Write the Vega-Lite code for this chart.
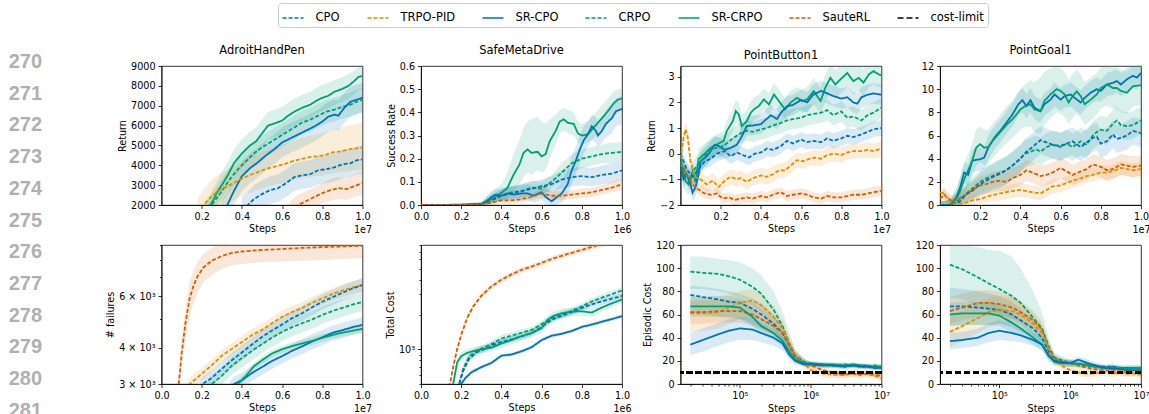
{
"$schema":"https://vega.github.io/schema/vega-lite/v6.json",
"background":"white",
"padding":{"left":0,"top":2,"right":0,"bottom":0},
"columns":5,
"spacing":{"row":40,"column":58.5},
"bounds":"flush",
"align":"each",
"datasets":{
"ln1":[{"n":270},{"n":271},{"n":272},{"n":273},{"n":274},{"n":275}],
"ln2":[{"n":276},{"n":277},{"n":278},{"n":279},{"n":280},{"n":281}],
"ahp":[
{"m":"SR-CRPO","x":0.2,"y":1400,"l":900,"h":1900},{"m":"SR-CRPO","x":0.25,"y":2100,"l":1500,"h":2700},{"m":"SR-CRPO","x":0.28,"y":2700,"l":2100,"h":3300},{"m":"SR-CRPO","x":0.3,"y":3000,"l":2350,"h":3650},{"m":"SR-CRPO","x":0.33,"y":3500,"l":2800,"h":4200},{"m":"SR-CRPO","x":0.36,"y":4100,"l":3400,"h":4800},{"m":"SR-CRPO","x":0.4,"y":4600,"l":3900,"h":5300},{"m":"SR-CRPO","x":0.44,"y":5000,"l":4300,"h":5700},{"m":"SR-CRPO","x":0.47,"y":5200,"l":4500,"h":5900},{"m":"SR-CRPO","x":0.5,"y":5600,"l":4900,"h":6300},{"m":"SR-CRPO","x":0.53,"y":6000,"l":5300,"h":6700},{"m":"SR-CRPO","x":0.56,"y":6100,"l":5400,"h":6800},{"m":"SR-CRPO","x":0.6,"y":6250,"l":5550,"h":6950},{"m":"SR-CRPO","x":0.63,"y":6500,"l":5800,"h":7150},{"m":"SR-CRPO","x":0.67,"y":6750,"l":6050,"h":7400},{"m":"SR-CRPO","x":0.7,"y":6900,"l":6200,"h":7550},{"m":"SR-CRPO","x":0.74,"y":7050,"l":6400,"h":7700},{"m":"SR-CRPO","x":0.77,"y":7250,"l":6600,"h":7900},{"m":"SR-CRPO","x":0.8,"y":7400,"l":6750,"h":8050},{"m":"SR-CRPO","x":0.83,"y":7500,"l":6850,"h":8150},{"m":"SR-CRPO","x":0.86,"y":7700,"l":7050,"h":8300},{"m":"SR-CRPO","x":0.9,"y":7850,"l":7200,"h":8450},{"m":"SR-CRPO","x":0.93,"y":8000,"l":7350,"h":8600},{"m":"SR-CRPO","x":0.96,"y":8250,"l":7600,"h":8800},{"m":"SR-CRPO","x":0.98,"y":8450,"l":7800,"h":8950},{"m":"SR-CRPO","x":1,"y":8500,"l":7850,"h":9000},
{"m":"CRPO","x":0.22,"y":1500,"l":1000,"h":2000},{"m":"CRPO","x":0.26,"y":2150,"l":1600,"h":2700},{"m":"CRPO","x":0.3,"y":2700,"l":2100,"h":3300},{"m":"CRPO","x":0.34,"y":3300,"l":2700,"h":3900},{"m":"CRPO","x":0.38,"y":3800,"l":3200,"h":4400},{"m":"CRPO","x":0.42,"y":4200,"l":3600,"h":4800},{"m":"CRPO","x":0.46,"y":4600,"l":4000,"h":5200},{"m":"CRPO","x":0.5,"y":4900,"l":4300,"h":5500},{"m":"CRPO","x":0.54,"y":5150,"l":4550,"h":5750},{"m":"CRPO","x":0.58,"y":5400,"l":4800,"h":6000},{"m":"CRPO","x":0.62,"y":5650,"l":5050,"h":6250},{"m":"CRPO","x":0.66,"y":5900,"l":5300,"h":6500},{"m":"CRPO","x":0.7,"y":6150,"l":5550,"h":6750},{"m":"CRPO","x":0.74,"y":6300,"l":5700,"h":6900},{"m":"CRPO","x":0.78,"y":6500,"l":5900,"h":7100},{"m":"CRPO","x":0.82,"y":6700,"l":6100,"h":7300},{"m":"CRPO","x":0.86,"y":6800,"l":6200,"h":7400},{"m":"CRPO","x":0.9,"y":6950,"l":6350,"h":7550},{"m":"CRPO","x":0.94,"y":7050,"l":6450,"h":7650},{"m":"CRPO","x":0.97,"y":7200,"l":6600,"h":7800},{"m":"CRPO","x":1,"y":7300,"l":6700,"h":7900},
{"m":"SR-CPO","x":0.3,"y":1600,"l":1000,"h":2200},{"m":"SR-CPO","x":0.33,"y":2050,"l":1400,"h":2700},{"m":"SR-CPO","x":0.36,"y":2700,"l":2000,"h":3400},{"m":"SR-CPO","x":0.4,"y":3450,"l":2700,"h":4200},{"m":"SR-CPO","x":0.44,"y":3850,"l":3100,"h":4600},{"m":"SR-CPO","x":0.48,"y":4150,"l":3400,"h":4900},{"m":"SR-CPO","x":0.52,"y":4500,"l":3750,"h":5250},{"m":"SR-CPO","x":0.56,"y":4800,"l":4050,"h":5550},{"m":"SR-CPO","x":0.6,"y":5150,"l":4400,"h":5900},{"m":"SR-CPO","x":0.64,"y":5350,"l":4600,"h":6100},{"m":"SR-CPO","x":0.68,"y":5550,"l":4800,"h":6300},{"m":"SR-CPO","x":0.72,"y":5750,"l":5000,"h":6500},{"m":"SR-CPO","x":0.76,"y":5950,"l":5200,"h":6700},{"m":"SR-CPO","x":0.8,"y":6200,"l":5450,"h":6950},{"m":"SR-CPO","x":0.83,"y":6450,"l":5700,"h":7200},{"m":"SR-CPO","x":0.86,"y":6550,"l":5800,"h":7300},{"m":"SR-CPO","x":0.88,"y":6500,"l":5750,"h":7250},{"m":"SR-CPO","x":0.91,"y":6900,"l":6150,"h":7650},{"m":"SR-CPO","x":0.94,"y":7200,"l":6450,"h":7950},{"m":"SR-CPO","x":0.97,"y":7300,"l":6550,"h":8050},{"m":"SR-CPO","x":1,"y":7400,"l":6650,"h":8150},
{"m":"TRPO-PID","x":0.18,"y":1600,"l":900,"h":2300},{"m":"TRPO-PID","x":0.21,"y":2000,"l":1200,"h":2800},{"m":"TRPO-PID","x":0.25,"y":2450,"l":1600,"h":3300},{"m":"TRPO-PID","x":0.29,"y":2750,"l":1900,"h":3600},{"m":"TRPO-PID","x":0.33,"y":2950,"l":2100,"h":3800},{"m":"TRPO-PID","x":0.37,"y":3150,"l":2300,"h":4000},{"m":"TRPO-PID","x":0.41,"y":3380,"l":2500,"h":4250},{"m":"TRPO-PID","x":0.45,"y":3550,"l":2650,"h":4450},{"m":"TRPO-PID","x":0.49,"y":3700,"l":2800,"h":4600},{"m":"TRPO-PID","x":0.53,"y":3850,"l":2950,"h":4800},{"m":"TRPO-PID","x":0.57,"y":3950,"l":3050,"h":4950},{"m":"TRPO-PID","x":0.61,"y":4050,"l":3100,"h":5050},{"m":"TRPO-PID","x":0.65,"y":4200,"l":3250,"h":5200},{"m":"TRPO-PID","x":0.69,"y":4300,"l":3350,"h":5350},{"m":"TRPO-PID","x":0.73,"y":4400,"l":3400,"h":5450},{"m":"TRPO-PID","x":0.77,"y":4450,"l":3450,"h":5550},{"m":"TRPO-PID","x":0.81,"y":4500,"l":3500,"h":5650},{"m":"TRPO-PID","x":0.85,"y":4650,"l":3600,"h":5800},{"m":"TRPO-PID","x":0.89,"y":4700,"l":3650,"h":5900},{"m":"TRPO-PID","x":0.93,"y":4800,"l":3700,"h":6000},{"m":"TRPO-PID","x":0.97,"y":4850,"l":3750,"h":6100},{"m":"TRPO-PID","x":1,"y":4900,"l":3800,"h":6150},
{"m":"CPO","x":0.4,"y":1750,"l":1100,"h":2400},{"m":"CPO","x":0.43,"y":2000,"l":1350,"h":2650},{"m":"CPO","x":0.46,"y":2300,"l":1600,"h":3000},{"m":"CPO","x":0.5,"y":2550,"l":1850,"h":3250},{"m":"CPO","x":0.54,"y":2750,"l":2050,"h":3450},{"m":"CPO","x":0.58,"y":2850,"l":2150,"h":3550},{"m":"CPO","x":0.62,"y":3100,"l":2400,"h":3800},{"m":"CPO","x":0.66,"y":3400,"l":2700,"h":4100},{"m":"CPO","x":0.7,"y":3500,"l":2800,"h":4200},{"m":"CPO","x":0.74,"y":3550,"l":2850,"h":4250},{"m":"CPO","x":0.78,"y":3750,"l":3050,"h":4450},{"m":"CPO","x":0.82,"y":3800,"l":3100,"h":4500},{"m":"CPO","x":0.86,"y":3900,"l":3200,"h":4600},{"m":"CPO","x":0.9,"y":4050,"l":3350,"h":4750},{"m":"CPO","x":0.94,"y":4100,"l":3400,"h":4800},{"m":"CPO","x":0.97,"y":4250,"l":3550,"h":4950},{"m":"CPO","x":1,"y":4300,"l":3600,"h":5000},
{"m":"SauteRL","x":0.64,"y":1700,"l":1200,"h":2200},{"m":"SauteRL","x":0.68,"y":2000,"l":1500,"h":2500},{"m":"SauteRL","x":0.72,"y":2200,"l":1700,"h":2700},{"m":"SauteRL","x":0.76,"y":2400,"l":1900,"h":2900},{"m":"SauteRL","x":0.8,"y":2600,"l":2100,"h":3100},{"m":"SauteRL","x":0.84,"y":2750,"l":2200,"h":3300},{"m":"SauteRL","x":0.88,"y":2850,"l":2300,"h":3400},{"m":"SauteRL","x":0.92,"y":2800,"l":2250,"h":3350},{"m":"SauteRL","x":0.96,"y":2950,"l":2400,"h":3550},{"m":"SauteRL","x":1,"y":3100,"l":2500,"h":3700}
],
"smd":[
{"m":"SR-CRPO","x":0,"y":0,"l":0,"h":0},{"m":"SR-CRPO","x":0.1,"y":0,"l":0,"h":0.002},{"m":"SR-CRPO","x":0.2,"y":0.002,"l":0,"h":0.008},{"m":"SR-CRPO","x":0.3,"y":0.005,"l":0,"h":0.015},{"m":"SR-CRPO","x":0.33,"y":0.02,"l":0.005,"h":0.04},{"m":"SR-CRPO","x":0.36,"y":0.03,"l":0.01,"h":0.06},{"m":"SR-CRPO","x":0.4,"y":0.052,"l":0.02,"h":0.09},{"m":"SR-CRPO","x":0.43,"y":0.074,"l":0.03,"h":0.14},{"m":"SR-CRPO","x":0.46,"y":0.13,"l":0.06,"h":0.22},{"m":"SR-CRPO","x":0.49,"y":0.175,"l":0.09,"h":0.28},{"m":"SR-CRPO","x":0.51,"y":0.225,"l":0.12,"h":0.33},{"m":"SR-CRPO","x":0.53,"y":0.24,"l":0.14,"h":0.36},{"m":"SR-CRPO","x":0.55,"y":0.225,"l":0.13,"h":0.37},{"m":"SR-CRPO","x":0.58,"y":0.23,"l":0.15,"h":0.38},{"m":"SR-CRPO","x":0.6,"y":0.21,"l":0.14,"h":0.36},{"m":"SR-CRPO","x":0.62,"y":0.22,"l":0.15,"h":0.35},{"m":"SR-CRPO","x":0.64,"y":0.275,"l":0.2,"h":0.37},{"m":"SR-CRPO","x":0.67,"y":0.32,"l":0.26,"h":0.39},{"m":"SR-CRPO","x":0.69,"y":0.36,"l":0.31,"h":0.41},{"m":"SR-CRPO","x":0.71,"y":0.37,"l":0.32,"h":0.42},{"m":"SR-CRPO","x":0.73,"y":0.355,"l":0.31,"h":0.41},{"m":"SR-CRPO","x":0.76,"y":0.35,"l":0.3,"h":0.4},{"m":"SR-CRPO","x":0.78,"y":0.31,"l":0.27,"h":0.36},{"m":"SR-CRPO","x":0.8,"y":0.3,"l":0.26,"h":0.35},{"m":"SR-CRPO","x":0.83,"y":0.305,"l":0.27,"h":0.36},{"m":"SR-CRPO","x":0.85,"y":0.325,"l":0.28,"h":0.38},{"m":"SR-CRPO","x":0.88,"y":0.355,"l":0.31,"h":0.41},{"m":"SR-CRPO","x":0.9,"y":0.375,"l":0.33,"h":0.43},{"m":"SR-CRPO","x":0.93,"y":0.405,"l":0.36,"h":0.46},{"m":"SR-CRPO","x":0.96,"y":0.44,"l":0.39,"h":0.49},{"m":"SR-CRPO","x":0.98,"y":0.455,"l":0.4,"h":0.5},{"m":"SR-CRPO","x":1,"y":0.46,"l":0.41,"h":0.5},
{"m":"SR-CPO","x":0,"y":0,"l":0,"h":0},{"m":"SR-CPO","x":0.1,"y":0,"l":0,"h":0.002},{"m":"SR-CPO","x":0.2,"y":0,"l":0,"h":0.005},{"m":"SR-CPO","x":0.3,"y":0.002,"l":0,"h":0.01},{"m":"SR-CPO","x":0.32,"y":0.01,"l":0,"h":0.03},{"m":"SR-CPO","x":0.35,"y":0.035,"l":0.01,"h":0.06},{"m":"SR-CPO","x":0.37,"y":0.045,"l":0.02,"h":0.07},{"m":"SR-CPO","x":0.4,"y":0.04,"l":0.015,"h":0.07},{"m":"SR-CPO","x":0.43,"y":0.05,"l":0.02,"h":0.08},{"m":"SR-CPO","x":0.46,"y":0.045,"l":0.02,"h":0.08},{"m":"SR-CPO","x":0.5,"y":0.05,"l":0.02,"h":0.085},{"m":"SR-CPO","x":0.53,"y":0.05,"l":0.02,"h":0.09},{"m":"SR-CPO","x":0.56,"y":0.04,"l":0.01,"h":0.08},{"m":"SR-CPO","x":0.6,"y":0.055,"l":0.02,"h":0.09},{"m":"SR-CPO","x":0.62,"y":0.035,"l":0.005,"h":0.08},{"m":"SR-CPO","x":0.65,"y":0.016,"l":0,"h":0.06},{"m":"SR-CPO","x":0.67,"y":0.03,"l":0,"h":0.07},{"m":"SR-CPO","x":0.7,"y":0.05,"l":0.01,"h":0.1},{"m":"SR-CPO","x":0.73,"y":0.09,"l":0.04,"h":0.15},{"m":"SR-CPO","x":0.75,"y":0.15,"l":0.09,"h":0.21},{"m":"SR-CPO","x":0.77,"y":0.19,"l":0.13,"h":0.25},{"m":"SR-CPO","x":0.79,"y":0.24,"l":0.18,"h":0.3},{"m":"SR-CPO","x":0.81,"y":0.28,"l":0.22,"h":0.34},{"m":"SR-CPO","x":0.83,"y":0.305,"l":0.25,"h":0.36},{"m":"SR-CPO","x":0.85,"y":0.34,"l":0.28,"h":0.39},{"m":"SR-CPO","x":0.87,"y":0.32,"l":0.27,"h":0.38},{"m":"SR-CPO","x":0.88,"y":0.3,"l":0.25,"h":0.36},{"m":"SR-CPO","x":0.9,"y":0.32,"l":0.27,"h":0.38},{"m":"SR-CPO","x":0.92,"y":0.35,"l":0.29,"h":0.41},{"m":"SR-CPO","x":0.95,"y":0.375,"l":0.31,"h":0.44},{"m":"SR-CPO","x":0.97,"y":0.405,"l":0.34,"h":0.46},{"m":"SR-CPO","x":1,"y":0.415,"l":0.35,"h":0.47},
{"m":"CRPO","x":0,"y":0,"l":0,"h":0},{"m":"CRPO","x":0.2,"y":0,"l":0,"h":0.004},{"m":"CRPO","x":0.3,"y":0.004,"l":0,"h":0.012},{"m":"CRPO","x":0.35,"y":0.02,"l":0.005,"h":0.04},{"m":"CRPO","x":0.4,"y":0.04,"l":0.02,"h":0.065},{"m":"CRPO","x":0.45,"y":0.055,"l":0.03,"h":0.08},{"m":"CRPO","x":0.5,"y":0.06,"l":0.035,"h":0.09},{"m":"CRPO","x":0.55,"y":0.075,"l":0.045,"h":0.105},{"m":"CRPO","x":0.6,"y":0.07,"l":0.04,"h":0.1},{"m":"CRPO","x":0.65,"y":0.1,"l":0.07,"h":0.13},{"m":"CRPO","x":0.7,"y":0.14,"l":0.1,"h":0.18},{"m":"CRPO","x":0.75,"y":0.18,"l":0.14,"h":0.22},{"m":"CRPO","x":0.8,"y":0.2,"l":0.16,"h":0.24},{"m":"CRPO","x":0.85,"y":0.21,"l":0.17,"h":0.25},{"m":"CRPO","x":0.9,"y":0.22,"l":0.18,"h":0.26},{"m":"CRPO","x":0.95,"y":0.225,"l":0.18,"h":0.27},{"m":"CRPO","x":1,"y":0.23,"l":0.19,"h":0.27},
{"m":"CPO","x":0,"y":0,"l":0,"h":0},{"m":"CPO","x":0.2,"y":0,"l":0,"h":0.004},{"m":"CPO","x":0.3,"y":0.003,"l":0,"h":0.01},{"m":"CPO","x":0.35,"y":0.02,"l":0.005,"h":0.04},{"m":"CPO","x":0.4,"y":0.04,"l":0.02,"h":0.07},{"m":"CPO","x":0.45,"y":0.05,"l":0.025,"h":0.08},{"m":"CPO","x":0.5,"y":0.06,"l":0.03,"h":0.09},{"m":"CPO","x":0.55,"y":0.07,"l":0.04,"h":0.1},{"m":"CPO","x":0.6,"y":0.08,"l":0.05,"h":0.11},{"m":"CPO","x":0.65,"y":0.09,"l":0.06,"h":0.125},{"m":"CPO","x":0.7,"y":0.11,"l":0.07,"h":0.15},{"m":"CPO","x":0.75,"y":0.12,"l":0.08,"h":0.16},{"m":"CPO","x":0.8,"y":0.125,"l":0.085,"h":0.165},{"m":"CPO","x":0.85,"y":0.12,"l":0.08,"h":0.16},{"m":"CPO","x":0.9,"y":0.13,"l":0.09,"h":0.17},{"m":"CPO","x":0.95,"y":0.135,"l":0.095,"h":0.18},{"m":"CPO","x":1,"y":0.15,"l":0.11,"h":0.19},
{"m":"SauteRL","x":0,"y":0,"l":0,"h":0},{"m":"SauteRL","x":0.2,"y":0,"l":0,"h":0.003},{"m":"SauteRL","x":0.3,"y":0.002,"l":0,"h":0.008},{"m":"SauteRL","x":0.35,"y":0.01,"l":0,"h":0.02},{"m":"SauteRL","x":0.4,"y":0.02,"l":0.005,"h":0.035},{"m":"SauteRL","x":0.45,"y":0.02,"l":0.005,"h":0.035},{"m":"SauteRL","x":0.5,"y":0.025,"l":0.01,"h":0.04},{"m":"SauteRL","x":0.55,"y":0.035,"l":0.02,"h":0.05},{"m":"SauteRL","x":0.6,"y":0.05,"l":0.03,"h":0.07},{"m":"SauteRL","x":0.65,"y":0.04,"l":0.02,"h":0.06},{"m":"SauteRL","x":0.7,"y":0.04,"l":0.02,"h":0.06},{"m":"SauteRL","x":0.75,"y":0.045,"l":0.025,"h":0.065},{"m":"SauteRL","x":0.8,"y":0.05,"l":0.03,"h":0.07},{"m":"SauteRL","x":0.85,"y":0.055,"l":0.035,"h":0.075},{"m":"SauteRL","x":0.9,"y":0.065,"l":0.045,"h":0.085},{"m":"SauteRL","x":0.95,"y":0.075,"l":0.055,"h":0.1},{"m":"SauteRL","x":1,"y":0.09,"l":0.065,"h":0.115}
],
"pb":[
{"m":"SR-CRPO","x":0,"y":-0.29,"l":-0.7,"h":0.1},{"m":"SR-CRPO","x":0.025,"y":-1.06,"l":-1.5,"h":-0.6},{"m":"SR-CRPO","x":0.04,"y":-1.2,"l":-1.6,"h":-0.8},{"m":"SR-CRPO","x":0.06,"y":-0.7,"l":-1.1,"h":-0.3},{"m":"SR-CRPO","x":0.075,"y":-1.1,"l":-1.5,"h":-0.7},{"m":"SR-CRPO","x":0.09,"y":-0.2,"l":-0.6,"h":0.2},{"m":"SR-CRPO","x":0.116,"y":-0.03,"l":-0.4,"h":0.35},{"m":"SR-CRPO","x":0.15,"y":0.23,"l":-0.15,"h":0.6},{"m":"SR-CRPO","x":0.18,"y":0.36,"l":0,"h":0.75},{"m":"SR-CRPO","x":0.215,"y":0.5,"l":0.1,"h":0.9},{"m":"SR-CRPO","x":0.23,"y":0.88,"l":0.45,"h":1.3},{"m":"SR-CRPO","x":0.26,"y":1.27,"l":0.85,"h":1.7},{"m":"SR-CRPO","x":0.275,"y":1.66,"l":1.2,"h":2.1},{"m":"SR-CRPO","x":0.29,"y":1.53,"l":1.1,"h":2},{"m":"SR-CRPO","x":0.305,"y":1.08,"l":0.65,"h":1.5},{"m":"SR-CRPO","x":0.33,"y":1.27,"l":0.85,"h":1.7},{"m":"SR-CRPO","x":0.35,"y":1.6,"l":1.15,"h":2.05},{"m":"SR-CRPO","x":0.365,"y":1.73,"l":1.3,"h":2.2},{"m":"SR-CRPO","x":0.39,"y":1.86,"l":1.4,"h":2.3},{"m":"SR-CRPO","x":0.415,"y":2.12,"l":1.7,"h":2.55},{"m":"SR-CRPO","x":0.44,"y":1.92,"l":1.5,"h":2.35},{"m":"SR-CRPO","x":0.465,"y":2.31,"l":1.9,"h":2.75},{"m":"SR-CRPO","x":0.49,"y":2.05,"l":1.6,"h":2.5},{"m":"SR-CRPO","x":0.52,"y":1.73,"l":1.3,"h":2.15},{"m":"SR-CRPO","x":0.547,"y":1.99,"l":1.55,"h":2.45},{"m":"SR-CRPO","x":0.58,"y":2.18,"l":1.75,"h":2.6},{"m":"SR-CRPO","x":0.605,"y":2.05,"l":1.6,"h":2.5},{"m":"SR-CRPO","x":0.63,"y":2.12,"l":1.65,"h":2.6},{"m":"SR-CRPO","x":0.663,"y":2.44,"l":1.95,"h":2.95},{"m":"SR-CRPO","x":0.697,"y":2.05,"l":1.55,"h":2.55},{"m":"SR-CRPO","x":0.72,"y":2.57,"l":2.05,"h":3.1},{"m":"SR-CRPO","x":0.746,"y":2.96,"l":2.4,"h":3.5},{"m":"SR-CRPO","x":0.77,"y":2.7,"l":2.15,"h":3.25},{"m":"SR-CRPO","x":0.796,"y":2.9,"l":2.35,"h":3.45},{"m":"SR-CRPO","x":0.83,"y":3.15,"l":2.6,"h":3.7},{"m":"SR-CRPO","x":0.86,"y":2.83,"l":2.3,"h":3.35},{"m":"SR-CRPO","x":0.887,"y":2.96,"l":2.45,"h":3.45},{"m":"SR-CRPO","x":0.91,"y":2.77,"l":2.25,"h":3.3},{"m":"SR-CRPO","x":0.937,"y":3.09,"l":2.6,"h":3.6},{"m":"SR-CRPO","x":0.96,"y":3.22,"l":2.7,"h":3.7},{"m":"SR-CRPO","x":0.987,"y":3.09,"l":2.6,"h":3.55},{"m":"SR-CRPO","x":1,"y":3.06,"l":2.6,"h":3.5},
{"m":"SR-CPO","x":0,"y":-0.5,"l":-0.85,"h":-0.15},{"m":"SR-CPO","x":0.015,"y":-1,"l":-1.35,"h":-0.65},{"m":"SR-CPO","x":0.03,"y":-0.8,"l":-1.15,"h":-0.45},{"m":"SR-CPO","x":0.05,"y":-1.2,"l":-1.55,"h":-0.85},{"m":"SR-CPO","x":0.06,"y":-1.52,"l":-1.85,"h":-1.15},{"m":"SR-CPO","x":0.075,"y":-1.3,"l":-1.65,"h":-0.95},{"m":"SR-CPO","x":0.09,"y":-0.8,"l":-1.15,"h":-0.45},{"m":"SR-CPO","x":0.1,"y":-0.3,"l":-0.65,"h":0.05},{"m":"SR-CPO","x":0.13,"y":-0.1,"l":-0.45,"h":0.25},{"m":"SR-CPO","x":0.15,"y":0.1,"l":-0.25,"h":0.45},{"m":"SR-CPO","x":0.17,"y":0.35,"l":0,"h":0.7},{"m":"SR-CPO","x":0.19,"y":0.3,"l":-0.05,"h":0.65},{"m":"SR-CPO","x":0.22,"y":0.15,"l":-0.2,"h":0.5},{"m":"SR-CPO","x":0.25,"y":0.23,"l":-0.12,"h":0.58},{"m":"SR-CPO","x":0.28,"y":0.35,"l":0,"h":0.7},{"m":"SR-CPO","x":0.3,"y":0.6,"l":0.25,"h":0.95},{"m":"SR-CPO","x":0.33,"y":1.08,"l":0.7,"h":1.45},{"m":"SR-CPO","x":0.36,"y":1.1,"l":0.72,"h":1.48},{"m":"SR-CPO","x":0.4,"y":1.15,"l":0.77,"h":1.53},{"m":"SR-CPO","x":0.42,"y":1.3,"l":0.92,"h":1.68},{"m":"SR-CPO","x":0.45,"y":1.5,"l":1.1,"h":1.9},{"m":"SR-CPO","x":0.48,"y":1.35,"l":0.95,"h":1.75},{"m":"SR-CPO","x":0.5,"y":1.6,"l":1.2,"h":2},{"m":"SR-CPO","x":0.53,"y":1.85,"l":1.45,"h":2.25},{"m":"SR-CPO","x":0.56,"y":1.9,"l":1.5,"h":2.3},{"m":"SR-CPO","x":0.6,"y":2.1,"l":1.7,"h":2.5},{"m":"SR-CPO","x":0.63,"y":2,"l":1.6,"h":2.4},{"m":"SR-CPO","x":0.66,"y":2.3,"l":1.9,"h":2.7},{"m":"SR-CPO","x":0.7,"y":2.45,"l":2.05,"h":2.85},{"m":"SR-CPO","x":0.73,"y":2.35,"l":1.95,"h":2.75},{"m":"SR-CPO","x":0.76,"y":2.25,"l":1.85,"h":2.65},{"m":"SR-CPO","x":0.8,"y":2.15,"l":1.75,"h":2.55},{"m":"SR-CPO","x":0.83,"y":2.2,"l":1.8,"h":2.6},{"m":"SR-CPO","x":0.86,"y":2,"l":1.6,"h":2.4},{"m":"SR-CPO","x":0.88,"y":1.95,"l":1.55,"h":2.35},{"m":"SR-CPO","x":0.9,"y":2.2,"l":1.8,"h":2.6},{"m":"SR-CPO","x":0.93,"y":2.3,"l":1.9,"h":2.7},{"m":"SR-CPO","x":0.96,"y":2.35,"l":1.95,"h":2.75},{"m":"SR-CPO","x":1,"y":2.3,"l":1.9,"h":2.7},
{"m":"CRPO","x":0,"y":-0.3,"l":-0.7,"h":0.1},{"m":"CRPO","x":0.03,"y":-0.8,"l":-1.2,"h":-0.4},{"m":"CRPO","x":0.05,"y":-1,"l":-1.4,"h":-0.6},{"m":"CRPO","x":0.07,"y":-0.6,"l":-1,"h":-0.2},{"m":"CRPO","x":0.1,"y":-0.3,"l":-0.7,"h":0.1},{"m":"CRPO","x":0.13,"y":0,"l":-0.4,"h":0.4},{"m":"CRPO","x":0.16,"y":0.2,"l":-0.2,"h":0.6},{"m":"CRPO","x":0.2,"y":0.25,"l":-0.15,"h":0.65},{"m":"CRPO","x":0.23,"y":0.4,"l":0,"h":0.8},{"m":"CRPO","x":0.26,"y":0.6,"l":0.2,"h":1},{"m":"CRPO","x":0.3,"y":0.8,"l":0.4,"h":1.2},{"m":"CRPO","x":0.33,"y":0.9,"l":0.5,"h":1.3},{"m":"CRPO","x":0.36,"y":0.85,"l":0.45,"h":1.25},{"m":"CRPO","x":0.4,"y":0.95,"l":0.55,"h":1.35},{"m":"CRPO","x":0.43,"y":1,"l":0.6,"h":1.4},{"m":"CRPO","x":0.46,"y":1.1,"l":0.7,"h":1.5},{"m":"CRPO","x":0.5,"y":1.2,"l":0.8,"h":1.6},{"m":"CRPO","x":0.53,"y":1.3,"l":0.9,"h":1.7},{"m":"CRPO","x":0.56,"y":1.35,"l":0.95,"h":1.75},{"m":"CRPO","x":0.6,"y":1.4,"l":1,"h":1.8},{"m":"CRPO","x":0.63,"y":1.5,"l":1.1,"h":1.9},{"m":"CRPO","x":0.66,"y":1.55,"l":1.15,"h":1.95},{"m":"CRPO","x":0.7,"y":1.6,"l":1.2,"h":2},{"m":"CRPO","x":0.73,"y":1.7,"l":1.3,"h":2.1},{"m":"CRPO","x":0.76,"y":1.5,"l":1.1,"h":1.9},{"m":"CRPO","x":0.8,"y":1.65,"l":1.25,"h":2.05},{"m":"CRPO","x":0.83,"y":1.4,"l":1,"h":1.8},{"m":"CRPO","x":0.86,"y":1.45,"l":1.05,"h":1.85},{"m":"CRPO","x":0.9,"y":1.3,"l":0.9,"h":1.7},{"m":"CRPO","x":0.93,"y":1.5,"l":1.1,"h":1.9},{"m":"CRPO","x":0.96,"y":1.6,"l":1.2,"h":2},{"m":"CRPO","x":1,"y":1.8,"l":1.4,"h":2.2},
{"m":"CPO","x":0,"y":0,"l":-0.3,"h":0.3},{"m":"CPO","x":0.03,"y":-0.6,"l":-0.9,"h":-0.3},{"m":"CPO","x":0.06,"y":-0.9,"l":-1.2,"h":-0.6},{"m":"CPO","x":0.09,"y":-0.6,"l":-0.9,"h":-0.3},{"m":"CPO","x":0.12,"y":-0.3,"l":-0.6,"h":0},{"m":"CPO","x":0.15,"y":-0.2,"l":-0.5,"h":0.1},{"m":"CPO","x":0.18,"y":0,"l":-0.3,"h":0.3},{"m":"CPO","x":0.22,"y":0.1,"l":-0.2,"h":0.4},{"m":"CPO","x":0.25,"y":-0.1,"l":-0.4,"h":0.2},{"m":"CPO","x":0.28,"y":0.05,"l":-0.25,"h":0.35},{"m":"CPO","x":0.31,"y":-0.05,"l":-0.35,"h":0.25},{"m":"CPO","x":0.34,"y":-0.15,"l":-0.45,"h":0.15},{"m":"CPO","x":0.37,"y":0,"l":-0.3,"h":0.3},{"m":"CPO","x":0.4,"y":0.05,"l":-0.25,"h":0.35},{"m":"CPO","x":0.43,"y":0.2,"l":-0.1,"h":0.5},{"m":"CPO","x":0.46,"y":0.15,"l":-0.15,"h":0.45},{"m":"CPO","x":0.5,"y":0.3,"l":0,"h":0.6},{"m":"CPO","x":0.53,"y":0.5,"l":0.2,"h":0.8},{"m":"CPO","x":0.56,"y":0.4,"l":0.1,"h":0.7},{"m":"CPO","x":0.6,"y":0.55,"l":0.25,"h":0.85},{"m":"CPO","x":0.63,"y":0.45,"l":0.15,"h":0.75},{"m":"CPO","x":0.66,"y":0.5,"l":0.2,"h":0.8},{"m":"CPO","x":0.7,"y":0.45,"l":0.15,"h":0.75},{"m":"CPO","x":0.73,"y":0.6,"l":0.3,"h":0.9},{"m":"CPO","x":0.76,"y":0.5,"l":0.2,"h":0.8},{"m":"CPO","x":0.8,"y":0.6,"l":0.3,"h":0.9},{"m":"CPO","x":0.83,"y":0.7,"l":0.4,"h":1},{"m":"CPO","x":0.86,"y":0.65,"l":0.35,"h":0.95},{"m":"CPO","x":0.9,"y":0.75,"l":0.45,"h":1.05},{"m":"CPO","x":0.93,"y":0.85,"l":0.55,"h":1.15},{"m":"CPO","x":0.96,"y":0.95,"l":0.65,"h":1.25},{"m":"CPO","x":1,"y":1,"l":0.7,"h":1.3},
{"m":"TRPO-PID","x":0,"y":-0.2,"l":-0.5,"h":0.1},{"m":"TRPO-PID","x":0.015,"y":0.6,"l":0.3,"h":0.9},{"m":"TRPO-PID","x":0.025,"y":0.95,"l":0.65,"h":1.25},{"m":"TRPO-PID","x":0.035,"y":0.7,"l":0.4,"h":1},{"m":"TRPO-PID","x":0.05,"y":-0.3,"l":-0.6,"h":0},{"m":"TRPO-PID","x":0.07,"y":-0.9,"l":-1.2,"h":-0.6},{"m":"TRPO-PID","x":0.1,"y":-1,"l":-1.3,"h":-0.7},{"m":"TRPO-PID","x":0.13,"y":-1.2,"l":-1.5,"h":-0.9},{"m":"TRPO-PID","x":0.16,"y":-1.05,"l":-1.35,"h":-0.75},{"m":"TRPO-PID","x":0.19,"y":-1.3,"l":-1.6,"h":-1},{"m":"TRPO-PID","x":0.22,"y":-1.05,"l":-1.35,"h":-0.75},{"m":"TRPO-PID","x":0.25,"y":-0.9,"l":-1.2,"h":-0.6},{"m":"TRPO-PID","x":0.28,"y":-1,"l":-1.3,"h":-0.7},{"m":"TRPO-PID","x":0.3,"y":-0.95,"l":-1.25,"h":-0.65},{"m":"TRPO-PID","x":0.33,"y":-1.1,"l":-1.4,"h":-0.8},{"m":"TRPO-PID","x":0.36,"y":-0.95,"l":-1.25,"h":-0.65},{"m":"TRPO-PID","x":0.4,"y":-0.85,"l":-1.15,"h":-0.55},{"m":"TRPO-PID","x":0.43,"y":-0.9,"l":-1.2,"h":-0.6},{"m":"TRPO-PID","x":0.46,"y":-0.8,"l":-1.1,"h":-0.5},{"m":"TRPO-PID","x":0.49,"y":-0.65,"l":-0.95,"h":-0.35},{"m":"TRPO-PID","x":0.52,"y":-0.65,"l":-0.95,"h":-0.35},{"m":"TRPO-PID","x":0.55,"y":-0.45,"l":-0.75,"h":-0.15},{"m":"TRPO-PID","x":0.58,"y":-0.25,"l":-0.55,"h":0.05},{"m":"TRPO-PID","x":0.61,"y":-0.3,"l":-0.6,"h":0},{"m":"TRPO-PID","x":0.64,"y":-0.2,"l":-0.5,"h":0.1},{"m":"TRPO-PID","x":0.67,"y":-0.15,"l":-0.45,"h":0.15},{"m":"TRPO-PID","x":0.7,"y":-0.2,"l":-0.5,"h":0.1},{"m":"TRPO-PID","x":0.73,"y":-0.05,"l":-0.35,"h":0.25},{"m":"TRPO-PID","x":0.76,"y":0,"l":-0.3,"h":0.3},{"m":"TRPO-PID","x":0.8,"y":-0.05,"l":-0.35,"h":0.25},{"m":"TRPO-PID","x":0.83,"y":0.05,"l":-0.25,"h":0.35},{"m":"TRPO-PID","x":0.86,"y":0.1,"l":-0.2,"h":0.4},{"m":"TRPO-PID","x":0.9,"y":0.1,"l":-0.2,"h":0.4},{"m":"TRPO-PID","x":0.93,"y":0.15,"l":-0.15,"h":0.45},{"m":"TRPO-PID","x":0.96,"y":0.1,"l":-0.2,"h":0.4},{"m":"TRPO-PID","x":1,"y":0.2,"l":-0.1,"h":0.5},
{"m":"SauteRL","x":0,"y":-0.4,"l":-0.6,"h":-0.2},{"m":"SauteRL","x":0.03,"y":-0.8,"l":-1,"h":-0.6},{"m":"SauteRL","x":0.06,"y":-1.2,"l":-1.4,"h":-1},{"m":"SauteRL","x":0.09,"y":-1.4,"l":-1.6,"h":-1.2},{"m":"SauteRL","x":0.12,"y":-1.55,"l":-1.75,"h":-1.35},{"m":"SauteRL","x":0.15,"y":-1.6,"l":-1.8,"h":-1.4},{"m":"SauteRL","x":0.18,"y":-1.55,"l":-1.75,"h":-1.35},{"m":"SauteRL","x":0.21,"y":-1.75,"l":-1.95,"h":-1.55},{"m":"SauteRL","x":0.24,"y":-1.7,"l":-1.9,"h":-1.5},{"m":"SauteRL","x":0.27,"y":-1.8,"l":-2,"h":-1.6},{"m":"SauteRL","x":0.3,"y":-1.75,"l":-1.95,"h":-1.55},{"m":"SauteRL","x":0.33,"y":-1.7,"l":-1.9,"h":-1.5},{"m":"SauteRL","x":0.36,"y":-1.75,"l":-1.95,"h":-1.55},{"m":"SauteRL","x":0.4,"y":-1.65,"l":-1.85,"h":-1.45},{"m":"SauteRL","x":0.43,"y":-1.7,"l":-1.9,"h":-1.5},{"m":"SauteRL","x":0.46,"y":-1.6,"l":-1.8,"h":-1.4},{"m":"SauteRL","x":0.5,"y":-1.5,"l":-1.7,"h":-1.3},{"m":"SauteRL","x":0.53,"y":-1.65,"l":-1.85,"h":-1.45},{"m":"SauteRL","x":0.56,"y":-1.6,"l":-1.8,"h":-1.4},{"m":"SauteRL","x":0.6,"y":-1.55,"l":-1.75,"h":-1.35},{"m":"SauteRL","x":0.63,"y":-1.6,"l":-1.8,"h":-1.4},{"m":"SauteRL","x":0.66,"y":-1.7,"l":-1.9,"h":-1.5},{"m":"SauteRL","x":0.7,"y":-1.75,"l":-1.95,"h":-1.55},{"m":"SauteRL","x":0.73,"y":-1.65,"l":-1.85,"h":-1.45},{"m":"SauteRL","x":0.76,"y":-1.7,"l":-1.9,"h":-1.5},{"m":"SauteRL","x":0.8,"y":-1.7,"l":-1.9,"h":-1.5},{"m":"SauteRL","x":0.83,"y":-1.65,"l":-1.85,"h":-1.45},{"m":"SauteRL","x":0.86,"y":-1.6,"l":-1.8,"h":-1.4},{"m":"SauteRL","x":0.9,"y":-1.6,"l":-1.8,"h":-1.4},{"m":"SauteRL","x":0.93,"y":-1.55,"l":-1.75,"h":-1.35},{"m":"SauteRL","x":0.96,"y":-1.5,"l":-1.7,"h":-1.3},{"m":"SauteRL","x":1,"y":-1.45,"l":-1.65,"h":-1.25}
],
"pg":[
{"m":"SR-CPO","x":0,"y":0,"l":0,"h":0.3},{"m":"SR-CPO","x":0.05,"y":0,"l":0,"h":0.4},{"m":"SR-CPO","x":0.08,"y":0.63,"l":0.1,"h":1.3},{"m":"SR-CPO","x":0.1,"y":1.5,"l":0.7,"h":2.3},{"m":"SR-CPO","x":0.12,"y":2.8,"l":1.9,"h":3.7},{"m":"SR-CPO","x":0.14,"y":2.6,"l":1.7,"h":3.5},{"m":"SR-CPO","x":0.16,"y":3.8,"l":2.8,"h":4.8},{"m":"SR-CPO","x":0.18,"y":3.9,"l":2.9,"h":4.9},{"m":"SR-CPO","x":0.2,"y":3.95,"l":2.95,"h":4.95},{"m":"SR-CPO","x":0.22,"y":4.1,"l":3.1,"h":5.1},{"m":"SR-CPO","x":0.24,"y":4.95,"l":3.9,"h":6},{"m":"SR-CPO","x":0.27,"y":5.8,"l":4.8,"h":6.8},{"m":"SR-CPO","x":0.3,"y":6.4,"l":5.4,"h":7.4},{"m":"SR-CPO","x":0.33,"y":7.1,"l":6.1,"h":8.1},{"m":"SR-CPO","x":0.36,"y":7.8,"l":6.8,"h":8.8},{"m":"SR-CPO","x":0.39,"y":8.7,"l":7.7,"h":9.7},{"m":"SR-CPO","x":0.41,"y":9.05,"l":8,"h":10.1},{"m":"SR-CPO","x":0.43,"y":8.55,"l":7.5,"h":9.6},{"m":"SR-CPO","x":0.45,"y":9.05,"l":8,"h":10.1},{"m":"SR-CPO","x":0.47,"y":8.4,"l":7.4,"h":9.4},{"m":"SR-CPO","x":0.5,"y":8.1,"l":7.1,"h":9.1},{"m":"SR-CPO","x":0.52,"y":8.7,"l":7.7,"h":9.7},{"m":"SR-CPO","x":0.55,"y":9.1,"l":8.1,"h":10.1},{"m":"SR-CPO","x":0.57,"y":9.55,"l":8.5,"h":10.6},{"m":"SR-CPO","x":0.6,"y":9.1,"l":8.1,"h":10.1},{"m":"SR-CPO","x":0.62,"y":9.4,"l":8.4,"h":10.4},{"m":"SR-CPO","x":0.65,"y":9.55,"l":8.5,"h":10.6},{"m":"SR-CPO","x":0.67,"y":9.25,"l":8.2,"h":10.3},{"m":"SR-CPO","x":0.7,"y":8.85,"l":7.8,"h":9.9},{"m":"SR-CPO","x":0.72,"y":9.25,"l":8.2,"h":10.3},{"m":"SR-CPO","x":0.75,"y":9.7,"l":8.7,"h":10.7},{"m":"SR-CPO","x":0.78,"y":10,"l":9,"h":11},{"m":"SR-CPO","x":0.8,"y":9.85,"l":8.9,"h":10.8},{"m":"SR-CPO","x":0.83,"y":10.4,"l":9.4,"h":11.4},{"m":"SR-CPO","x":0.86,"y":10.55,"l":9.5,"h":11.6},{"m":"SR-CPO","x":0.88,"y":10.7,"l":9.7,"h":11.7},{"m":"SR-CPO","x":0.9,"y":10.4,"l":9.4,"h":11.4},{"m":"SR-CPO","x":0.93,"y":10.85,"l":9.8,"h":11.9},{"m":"SR-CPO","x":0.96,"y":11.15,"l":10.1,"h":12.2},{"m":"SR-CPO","x":0.98,"y":11,"l":10,"h":12},{"m":"SR-CPO","x":1,"y":11.4,"l":10.4,"h":12.4},
{"m":"SR-CRPO","x":0,"y":0,"l":0,"h":0.3},{"m":"SR-CRPO","x":0.05,"y":0,"l":0,"h":0.5},{"m":"SR-CRPO","x":0.08,"y":0.5,"l":0,"h":1.4},{"m":"SR-CRPO","x":0.1,"y":1.2,"l":0.2,"h":2.4},{"m":"SR-CRPO","x":0.12,"y":2.2,"l":0.9,"h":3.6},{"m":"SR-CRPO","x":0.14,"y":3,"l":1.6,"h":4.4},{"m":"SR-CRPO","x":0.16,"y":3.8,"l":2.3,"h":5.3},{"m":"SR-CRPO","x":0.18,"y":4.95,"l":3.4,"h":6.5},{"m":"SR-CRPO","x":0.2,"y":5.25,"l":3.7,"h":6.8},{"m":"SR-CRPO","x":0.22,"y":4.95,"l":3.4,"h":6.5},{"m":"SR-CRPO","x":0.24,"y":5,"l":3.5,"h":6.5},{"m":"SR-CRPO","x":0.26,"y":5.5,"l":4,"h":7},{"m":"SR-CRPO","x":0.28,"y":5.9,"l":4.4,"h":7.4},{"m":"SR-CRPO","x":0.3,"y":6.3,"l":4.8,"h":7.8},{"m":"SR-CRPO","x":0.33,"y":6.9,"l":5.3,"h":8.5},{"m":"SR-CRPO","x":0.36,"y":7.4,"l":5.8,"h":9},{"m":"SR-CRPO","x":0.38,"y":7.8,"l":6.1,"h":9.5},{"m":"SR-CRPO","x":0.4,"y":8.25,"l":6.5,"h":10},{"m":"SR-CRPO","x":0.42,"y":8.5,"l":6.7,"h":10.4},{"m":"SR-CRPO","x":0.45,"y":8.7,"l":6.8,"h":10.8},{"m":"SR-CRPO","x":0.47,"y":8.25,"l":6.3,"h":10.6},{"m":"SR-CRPO","x":0.5,"y":8.1,"l":6.1,"h":11},{"m":"SR-CRPO","x":0.52,"y":9,"l":6.9,"h":11.5},{"m":"SR-CRPO","x":0.55,"y":9.55,"l":7.5,"h":11.8},{"m":"SR-CRPO","x":0.58,"y":10,"l":8,"h":12},{"m":"SR-CRPO","x":0.6,"y":9.85,"l":7.9,"h":11.8},{"m":"SR-CRPO","x":0.62,"y":9.55,"l":7.6,"h":11.5},{"m":"SR-CRPO","x":0.64,"y":8.85,"l":7,"h":10.8},{"m":"SR-CRPO","x":0.66,"y":9.4,"l":7.5,"h":11.3},{"m":"SR-CRPO","x":0.68,"y":9.8,"l":7.9,"h":11.7},{"m":"SR-CRPO","x":0.7,"y":9.4,"l":7.5,"h":11.3},{"m":"SR-CRPO","x":0.72,"y":8.7,"l":6.9,"h":10.6},{"m":"SR-CRPO","x":0.75,"y":9.1,"l":7.3,"h":11},{"m":"SR-CRPO","x":0.78,"y":9.55,"l":7.8,"h":11.4},{"m":"SR-CRPO","x":0.8,"y":10.1,"l":8.3,"h":11.9},{"m":"SR-CRPO","x":0.83,"y":10.4,"l":8.6,"h":12.2},{"m":"SR-CRPO","x":0.86,"y":10.1,"l":8.3,"h":11.9},{"m":"SR-CRPO","x":0.88,"y":10.1,"l":8.3,"h":11.9},{"m":"SR-CRPO","x":0.9,"y":9.85,"l":8,"h":11.7},{"m":"SR-CRPO","x":0.93,"y":9.7,"l":7.9,"h":11.5},{"m":"SR-CRPO","x":0.96,"y":10.25,"l":8.5,"h":12},{"m":"SR-CRPO","x":1,"y":10.35,"l":8.6,"h":12.1},
{"m":"CRPO","x":0,"y":0,"l":0,"h":0.3},{"m":"CRPO","x":0.05,"y":0,"l":0,"h":0.4},{"m":"CRPO","x":0.1,"y":0.5,"l":0,"h":1.2},{"m":"CRPO","x":0.13,"y":1,"l":0.2,"h":1.8},{"m":"CRPO","x":0.16,"y":1.4,"l":0.5,"h":2.3},{"m":"CRPO","x":0.2,"y":2,"l":1,"h":3},{"m":"CRPO","x":0.23,"y":2.3,"l":1.2,"h":3.4},{"m":"CRPO","x":0.26,"y":2.5,"l":1.4,"h":3.6},{"m":"CRPO","x":0.3,"y":2.8,"l":1.6,"h":4},{"m":"CRPO","x":0.33,"y":3,"l":1.8,"h":4.2},{"m":"CRPO","x":0.36,"y":3.4,"l":2.2,"h":4.6},{"m":"CRPO","x":0.4,"y":4,"l":2.8,"h":5.2},{"m":"CRPO","x":0.42,"y":4.4,"l":3.2,"h":5.6},{"m":"CRPO","x":0.45,"y":4.6,"l":3.4,"h":5.8},{"m":"CRPO","x":0.48,"y":4.8,"l":3.6,"h":6},{"m":"CRPO","x":0.5,"y":4.6,"l":3.4,"h":5.8},{"m":"CRPO","x":0.53,"y":5,"l":3.8,"h":6.2},{"m":"CRPO","x":0.56,"y":5.2,"l":4,"h":6.4},{"m":"CRPO","x":0.6,"y":5,"l":3.8,"h":6.2},{"m":"CRPO","x":0.63,"y":5.3,"l":4.1,"h":6.5},{"m":"CRPO","x":0.66,"y":5,"l":3.8,"h":6.2},{"m":"CRPO","x":0.7,"y":5.5,"l":4.3,"h":6.7},{"m":"CRPO","x":0.73,"y":5.2,"l":4,"h":6.4},{"m":"CRPO","x":0.76,"y":6,"l":4.8,"h":7.2},{"m":"CRPO","x":0.78,"y":6.3,"l":5.1,"h":7.5},{"m":"CRPO","x":0.8,"y":6.5,"l":5.3,"h":7.7},{"m":"CRPO","x":0.83,"y":6.4,"l":5.2,"h":7.6},{"m":"CRPO","x":0.86,"y":7,"l":5.8,"h":8.2},{"m":"CRPO","x":0.88,"y":7.3,"l":6.1,"h":8.5},{"m":"CRPO","x":0.9,"y":6.9,"l":5.7,"h":8.1},{"m":"CRPO","x":0.93,"y":6.8,"l":5.6,"h":8},{"m":"CRPO","x":0.96,"y":6.9,"l":5.7,"h":8.1},{"m":"CRPO","x":1,"y":7.3,"l":6.1,"h":8.5},
{"m":"CPO","x":0,"y":0,"l":0,"h":0.3},{"m":"CPO","x":0.05,"y":0,"l":0,"h":0.4},{"m":"CPO","x":0.1,"y":0.3,"l":0,"h":1},{"m":"CPO","x":0.13,"y":0.9,"l":0.1,"h":1.7},{"m":"CPO","x":0.16,"y":1.2,"l":0.3,"h":2.1},{"m":"CPO","x":0.2,"y":1.8,"l":0.8,"h":2.8},{"m":"CPO","x":0.23,"y":2.1,"l":1,"h":3.2},{"m":"CPO","x":0.26,"y":2.4,"l":1.3,"h":3.5},{"m":"CPO","x":0.3,"y":2.7,"l":1.5,"h":3.9},{"m":"CPO","x":0.33,"y":3,"l":1.8,"h":4.2},{"m":"CPO","x":0.36,"y":3.4,"l":2.2,"h":4.6},{"m":"CPO","x":0.4,"y":4,"l":2.8,"h":5.2},{"m":"CPO","x":0.43,"y":4.6,"l":3.4,"h":5.8},{"m":"CPO","x":0.46,"y":5,"l":3.8,"h":6.2},{"m":"CPO","x":0.5,"y":5.6,"l":4.4,"h":6.8},{"m":"CPO","x":0.53,"y":5.4,"l":4.2,"h":6.6},{"m":"CPO","x":0.56,"y":5.2,"l":4,"h":6.4},{"m":"CPO","x":0.6,"y":5.1,"l":3.9,"h":6.3},{"m":"CPO","x":0.63,"y":5.3,"l":4.1,"h":6.5},{"m":"CPO","x":0.66,"y":5.5,"l":4.3,"h":6.7},{"m":"CPO","x":0.7,"y":5,"l":3.8,"h":6.2},{"m":"CPO","x":0.73,"y":5.4,"l":4.2,"h":6.6},{"m":"CPO","x":0.76,"y":5.8,"l":4.6,"h":7},{"m":"CPO","x":0.78,"y":5.9,"l":4.7,"h":7.1},{"m":"CPO","x":0.8,"y":5.3,"l":4.1,"h":6.5},{"m":"CPO","x":0.83,"y":5.5,"l":4.3,"h":6.7},{"m":"CPO","x":0.86,"y":6.1,"l":4.9,"h":7.3},{"m":"CPO","x":0.88,"y":5.7,"l":4.5,"h":6.9},{"m":"CPO","x":0.9,"y":5.8,"l":4.6,"h":7},{"m":"CPO","x":0.93,"y":6,"l":4.8,"h":7.2},{"m":"CPO","x":0.96,"y":6.4,"l":5.2,"h":7.6},{"m":"CPO","x":1,"y":6.2,"l":5,"h":7.4},
{"m":"SauteRL","x":0,"y":0.5,"l":0.1,"h":1},{"m":"SauteRL","x":0.02,"y":0.9,"l":0.4,"h":1.4},{"m":"SauteRL","x":0.04,"y":0.6,"l":0.2,"h":1.1},{"m":"SauteRL","x":0.06,"y":0.3,"l":0,"h":0.8},{"m":"SauteRL","x":0.1,"y":0.6,"l":0.1,"h":1.2},{"m":"SauteRL","x":0.13,"y":0.9,"l":0.3,"h":1.5},{"m":"SauteRL","x":0.16,"y":1.3,"l":0.6,"h":2},{"m":"SauteRL","x":0.2,"y":1.7,"l":0.9,"h":2.5},{"m":"SauteRL","x":0.23,"y":1.8,"l":1,"h":2.6},{"m":"SauteRL","x":0.26,"y":2,"l":1.1,"h":2.9},{"m":"SauteRL","x":0.3,"y":2.1,"l":1.2,"h":3},{"m":"SauteRL","x":0.33,"y":2,"l":1.1,"h":2.9},{"m":"SauteRL","x":0.36,"y":2.3,"l":1.4,"h":3.2},{"m":"SauteRL","x":0.4,"y":2.6,"l":1.7,"h":3.5},{"m":"SauteRL","x":0.43,"y":3,"l":2.1,"h":3.9},{"m":"SauteRL","x":0.46,"y":2.8,"l":1.9,"h":3.7},{"m":"SauteRL","x":0.5,"y":2.5,"l":1.6,"h":3.4},{"m":"SauteRL","x":0.53,"y":2.6,"l":1.7,"h":3.5},{"m":"SauteRL","x":0.56,"y":2.8,"l":1.9,"h":3.7},{"m":"SauteRL","x":0.6,"y":3.2,"l":2.3,"h":4.1},{"m":"SauteRL","x":0.63,"y":2.9,"l":2,"h":3.8},{"m":"SauteRL","x":0.66,"y":2.6,"l":1.7,"h":3.5},{"m":"SauteRL","x":0.7,"y":2.9,"l":2,"h":3.8},{"m":"SauteRL","x":0.73,"y":3.1,"l":2.2,"h":4},{"m":"SauteRL","x":0.76,"y":3.5,"l":2.6,"h":4.4},{"m":"SauteRL","x":0.8,"y":3.3,"l":2.4,"h":4.2},{"m":"SauteRL","x":0.83,"y":3,"l":2.1,"h":3.9},{"m":"SauteRL","x":0.86,"y":3.1,"l":2.2,"h":4},{"m":"SauteRL","x":0.9,"y":3.5,"l":2.6,"h":4.4},{"m":"SauteRL","x":0.93,"y":3.4,"l":2.5,"h":4.3},{"m":"SauteRL","x":0.96,"y":3.3,"l":2.4,"h":4.2},{"m":"SauteRL","x":1,"y":3.4,"l":2.5,"h":4.3},
{"m":"TRPO-PID","x":0,"y":1.1,"l":0.6,"h":1.6},{"m":"TRPO-PID","x":0.02,"y":1,"l":0.5,"h":1.5},{"m":"TRPO-PID","x":0.04,"y":0.5,"l":0.1,"h":0.9},{"m":"TRPO-PID","x":0.06,"y":0.1,"l":0,"h":0.4},{"m":"TRPO-PID","x":0.1,"y":0.1,"l":0,"h":0.4},{"m":"TRPO-PID","x":0.13,"y":0.2,"l":0,"h":0.6},{"m":"TRPO-PID","x":0.16,"y":0.4,"l":0,"h":0.9},{"m":"TRPO-PID","x":0.2,"y":0.5,"l":0.1,"h":1},{"m":"TRPO-PID","x":0.23,"y":0.7,"l":0.2,"h":1.2},{"m":"TRPO-PID","x":0.26,"y":0.85,"l":0.3,"h":1.4},{"m":"TRPO-PID","x":0.3,"y":1,"l":0.4,"h":1.6},{"m":"TRPO-PID","x":0.33,"y":1.1,"l":0.5,"h":1.7},{"m":"TRPO-PID","x":0.36,"y":1.2,"l":0.6,"h":1.8},{"m":"TRPO-PID","x":0.4,"y":1.3,"l":0.7,"h":1.9},{"m":"TRPO-PID","x":0.43,"y":1.2,"l":0.6,"h":1.8},{"m":"TRPO-PID","x":0.46,"y":1.1,"l":0.5,"h":1.7},{"m":"TRPO-PID","x":0.5,"y":1,"l":0.4,"h":1.6},{"m":"TRPO-PID","x":0.53,"y":1.3,"l":0.7,"h":1.9},{"m":"TRPO-PID","x":0.56,"y":1.6,"l":1,"h":2.2},{"m":"TRPO-PID","x":0.6,"y":1.7,"l":1.1,"h":2.3},{"m":"TRPO-PID","x":0.63,"y":1.9,"l":1.3,"h":2.5},{"m":"TRPO-PID","x":0.66,"y":2.1,"l":1.5,"h":2.7},{"m":"TRPO-PID","x":0.7,"y":2.3,"l":1.7,"h":2.9},{"m":"TRPO-PID","x":0.73,"y":2.5,"l":1.9,"h":3.1},{"m":"TRPO-PID","x":0.76,"y":2.6,"l":2,"h":3.2},{"m":"TRPO-PID","x":0.8,"y":2.8,"l":2.2,"h":3.4},{"m":"TRPO-PID","x":0.83,"y":2.8,"l":2.2,"h":3.4},{"m":"TRPO-PID","x":0.86,"y":2.9,"l":2.3,"h":3.5},{"m":"TRPO-PID","x":0.9,"y":3.2,"l":2.6,"h":3.8},{"m":"TRPO-PID","x":0.93,"y":3.1,"l":2.5,"h":3.7},{"m":"TRPO-PID","x":0.96,"y":3,"l":2.4,"h":3.6},{"m":"TRPO-PID","x":1,"y":3.1,"l":2.5,"h":3.7}
],
"fail":[
{"m":"SauteRL","x":0.07,"y":2600,"l":2400,"h":2800},{"m":"SauteRL","x":0.086,"y":3000,"l":2750,"h":3250},{"m":"SauteRL","x":0.1,"y":3800,"l":3400,"h":4200},{"m":"SauteRL","x":0.12,"y":4900,"l":4300,"h":5500},{"m":"SauteRL","x":0.14,"y":5900,"l":5100,"h":6700},{"m":"SauteRL","x":0.16,"y":6550,"l":5700,"h":7400},{"m":"SauteRL","x":0.18,"y":7050,"l":6200,"h":7900},{"m":"SauteRL","x":0.21,"y":7550,"l":6700,"h":8400},{"m":"SauteRL","x":0.25,"y":7950,"l":7100,"h":8800},{"m":"SauteRL","x":0.3,"y":8250,"l":7450,"h":9100},{"m":"SauteRL","x":0.35,"y":8450,"l":7650,"h":9300},{"m":"SauteRL","x":0.4,"y":8550,"l":7750,"h":9400},{"m":"SauteRL","x":0.5,"y":8650,"l":7850,"h":9500},{"m":"SauteRL","x":0.6,"y":8720,"l":7900,"h":9500},{"m":"SauteRL","x":0.7,"y":8800,"l":7950,"h":9500},{"m":"SauteRL","x":0.8,"y":8850,"l":8000,"h":9500},{"m":"SauteRL","x":0.9,"y":8900,"l":8050,"h":9500},{"m":"SauteRL","x":1,"y":8950,"l":8100,"h":9500},
{"m":"TRPO-PID","x":0.12,"y":2850,"l":2710,"h":2990},{"m":"TRPO-PID","x":0.14,"y":3000,"l":2850,"h":3150},{"m":"TRPO-PID","x":0.2,"y":3250,"l":3090,"h":3410},{"m":"TRPO-PID","x":0.25,"y":3480,"l":3310,"h":3650},{"m":"TRPO-PID","x":0.3,"y":3750,"l":3560,"h":3940},{"m":"TRPO-PID","x":0.35,"y":3960,"l":3760,"h":4160},{"m":"TRPO-PID","x":0.4,"y":4180,"l":3970,"h":4390},{"m":"TRPO-PID","x":0.45,"y":4420,"l":4200,"h":4640},{"m":"TRPO-PID","x":0.5,"y":4600,"l":4370,"h":4830},{"m":"TRPO-PID","x":0.55,"y":4850,"l":4610,"h":5090},{"m":"TRPO-PID","x":0.6,"y":5100,"l":4850,"h":5360},{"m":"TRPO-PID","x":0.65,"y":5300,"l":5040,"h":5570},{"m":"TRPO-PID","x":0.7,"y":5470,"l":5200,"h":5740},{"m":"TRPO-PID","x":0.75,"y":5700,"l":5420,"h":5990},{"m":"TRPO-PID","x":0.8,"y":5900,"l":5610,"h":6200},{"m":"TRPO-PID","x":0.85,"y":6100,"l":5800,"h":6400},{"m":"TRPO-PID","x":0.9,"y":6280,"l":5970,"h":6590},{"m":"TRPO-PID","x":0.95,"y":6430,"l":6110,"h":6750},{"m":"TRPO-PID","x":1,"y":6560,"l":6230,"h":6890},
{"m":"CPO","x":0.19,"y":2900,"l":2730,"h":3070},{"m":"CPO","x":0.205,"y":3000,"l":2820,"h":3180},{"m":"CPO","x":0.25,"y":3150,"l":2960,"h":3340},{"m":"CPO","x":0.3,"y":3380,"l":3180,"h":3580},{"m":"CPO","x":0.35,"y":3620,"l":3400,"h":3840},{"m":"CPO","x":0.4,"y":3850,"l":3620,"h":4080},{"m":"CPO","x":0.45,"y":4100,"l":3850,"h":4350},{"m":"CPO","x":0.5,"y":4350,"l":4090,"h":4610},{"m":"CPO","x":0.55,"y":4580,"l":4310,"h":4850},{"m":"CPO","x":0.6,"y":4800,"l":4510,"h":5090},{"m":"CPO","x":0.65,"y":5050,"l":4750,"h":5350},{"m":"CPO","x":0.7,"y":5250,"l":4940,"h":5570},{"m":"CPO","x":0.75,"y":5500,"l":5170,"h":5830},{"m":"CPO","x":0.8,"y":5750,"l":5410,"h":6100},{"m":"CPO","x":0.85,"y":5950,"l":5590,"h":6310},{"m":"CPO","x":0.9,"y":6170,"l":5800,"h":6540},{"m":"CPO","x":0.95,"y":6380,"l":6000,"h":6760},{"m":"CPO","x":1,"y":6560,"l":6170,"h":6950},
{"m":"CRPO","x":0.23,"y":2900,"l":2700,"h":3100},{"m":"CRPO","x":0.25,"y":3000,"l":2790,"h":3210},{"m":"CRPO","x":0.3,"y":3200,"l":2980,"h":3420},{"m":"CRPO","x":0.35,"y":3470,"l":3230,"h":3710},{"m":"CRPO","x":0.4,"y":3680,"l":3420,"h":3940},{"m":"CRPO","x":0.45,"y":3900,"l":3630,"h":4170},{"m":"CRPO","x":0.5,"y":4110,"l":3820,"h":4400},{"m":"CRPO","x":0.55,"y":4330,"l":4030,"h":4630},{"m":"CRPO","x":0.6,"y":4530,"l":4210,"h":4850},{"m":"CRPO","x":0.65,"y":4700,"l":4370,"h":5030},{"m":"CRPO","x":0.7,"y":4850,"l":4510,"h":5190},{"m":"CRPO","x":0.75,"y":5000,"l":4650,"h":5350},{"m":"CRPO","x":0.8,"y":5180,"l":4820,"h":5540},{"m":"CRPO","x":0.85,"y":5340,"l":4970,"h":5710},{"m":"CRPO","x":0.9,"y":5480,"l":5100,"h":5860},{"m":"CRPO","x":0.95,"y":5620,"l":5230,"h":6010},{"m":"CRPO","x":1,"y":5740,"l":5340,"h":6140},
{"m":"SR-CPO","x":0.34,"y":2900,"l":2730,"h":3070},{"m":"SR-CPO","x":0.36,"y":3000,"l":2820,"h":3180},{"m":"SR-CPO","x":0.4,"y":3090,"l":2900,"h":3280},{"m":"SR-CPO","x":0.45,"y":3270,"l":3070,"h":3470},{"m":"SR-CPO","x":0.5,"y":3430,"l":3220,"h":3640},{"m":"SR-CPO","x":0.55,"y":3600,"l":3380,"h":3820},{"m":"SR-CPO","x":0.6,"y":3740,"l":3520,"h":3960},{"m":"SR-CPO","x":0.65,"y":3900,"l":3670,"h":4130},{"m":"SR-CPO","x":0.7,"y":4040,"l":3800,"h":4280},{"m":"SR-CPO","x":0.75,"y":4200,"l":3950,"h":4450},{"m":"SR-CPO","x":0.8,"y":4340,"l":4080,"h":4600},{"m":"SR-CPO","x":0.85,"y":4490,"l":4220,"h":4760},{"m":"SR-CPO","x":0.9,"y":4590,"l":4310,"h":4870},{"m":"SR-CPO","x":0.95,"y":4700,"l":4420,"h":4980},{"m":"SR-CPO","x":1,"y":4790,"l":4500,"h":5080},
{"m":"SR-CRPO","x":0.36,"y":2900,"l":2810,"h":2990},{"m":"SR-CRPO","x":0.38,"y":3000,"l":2910,"h":3090},{"m":"SR-CRPO","x":0.42,"y":3200,"l":3100,"h":3300},{"m":"SR-CRPO","x":0.46,"y":3450,"l":3350,"h":3550},{"m":"SR-CRPO","x":0.5,"y":3620,"l":3510,"h":3730},{"m":"SR-CRPO","x":0.55,"y":3820,"l":3710,"h":3930},{"m":"SR-CRPO","x":0.6,"y":3950,"l":3830,"h":4070},{"m":"SR-CRPO","x":0.65,"y":4050,"l":3930,"h":4170},{"m":"SR-CRPO","x":0.7,"y":4130,"l":4010,"h":4250},{"m":"SR-CRPO","x":0.75,"y":4220,"l":4090,"h":4350},{"m":"SR-CRPO","x":0.8,"y":4320,"l":4190,"h":4450},{"m":"SR-CRPO","x":0.85,"y":4420,"l":4290,"h":4550},{"m":"SR-CRPO","x":0.9,"y":4500,"l":4370,"h":4640},{"m":"SR-CRPO","x":0.95,"y":4570,"l":4430,"h":4710},{"m":"SR-CRPO","x":1,"y":4640,"l":4500,"h":4780}
],
"tc":[
{"m":"SauteRL","x":0.13,"y":420,"l":400,"h":440},{"m":"SauteRL","x":0.144,"y":500,"l":470,"h":530},{"m":"SauteRL","x":0.165,"y":770,"l":730,"h":810},{"m":"SauteRL","x":0.18,"y":1000,"l":950,"h":1050},{"m":"SauteRL","x":0.2,"y":1330,"l":1260,"h":1400},{"m":"SauteRL","x":0.23,"y":1870,"l":1770,"h":1970},{"m":"SauteRL","x":0.26,"y":2350,"l":2220,"h":2480},{"m":"SauteRL","x":0.3,"y":2900,"l":2740,"h":3060},{"m":"SauteRL","x":0.35,"y":3500,"l":3300,"h":3700},{"m":"SauteRL","x":0.4,"y":4000,"l":3780,"h":4220},{"m":"SauteRL","x":0.45,"y":4450,"l":4200,"h":4700},{"m":"SauteRL","x":0.5,"y":4870,"l":4600,"h":5140},{"m":"SauteRL","x":0.55,"y":5200,"l":4910,"h":5490},{"m":"SauteRL","x":0.6,"y":5600,"l":5290,"h":5910},{"m":"SauteRL","x":0.65,"y":6050,"l":5720,"h":6380},{"m":"SauteRL","x":0.7,"y":6450,"l":6100,"h":6800},{"m":"SauteRL","x":0.75,"y":6850,"l":6480,"h":7220},{"m":"SauteRL","x":0.8,"y":7250,"l":6860,"h":7640},{"m":"SauteRL","x":0.85,"y":7700,"l":7290,"h":8110},{"m":"SauteRL","x":0.9,"y":8100,"l":7670,"h":8530},{"m":"SauteRL","x":1,"y":8900,"l":8430,"h":9370},
{"m":"CRPO","x":0.18,"y":450,"l":420,"h":480},{"m":"CRPO","x":0.19,"y":500,"l":465,"h":535},{"m":"CRPO","x":0.21,"y":680,"l":630,"h":730},{"m":"CRPO","x":0.24,"y":870,"l":810,"h":930},{"m":"CRPO","x":0.28,"y":980,"l":910,"h":1050},{"m":"CRPO","x":0.32,"y":1050,"l":980,"h":1120},{"m":"CRPO","x":0.36,"y":1130,"l":1050,"h":1210},{"m":"CRPO","x":0.4,"y":1240,"l":1150,"h":1330},{"m":"CRPO","x":0.45,"y":1310,"l":1220,"h":1400},{"m":"CRPO","x":0.5,"y":1390,"l":1290,"h":1490},{"m":"CRPO","x":0.55,"y":1470,"l":1370,"h":1570},{"m":"CRPO","x":0.6,"y":1650,"l":1530,"h":1770},{"m":"CRPO","x":0.65,"y":1850,"l":1720,"h":1980},{"m":"CRPO","x":0.7,"y":2000,"l":1860,"h":2140},{"m":"CRPO","x":0.75,"y":2150,"l":2000,"h":2300},{"m":"CRPO","x":0.8,"y":2350,"l":2190,"h":2510},{"m":"CRPO","x":0.85,"y":2600,"l":2420,"h":2780},{"m":"CRPO","x":0.9,"y":2800,"l":2600,"h":3000},{"m":"CRPO","x":0.95,"y":3000,"l":2790,"h":3210},{"m":"CRPO","x":1,"y":3230,"l":3000,"h":3460},
{"m":"CPO","x":0.18,"y":450,"l":425,"h":475},{"m":"CPO","x":0.19,"y":500,"l":470,"h":530},{"m":"CPO","x":0.21,"y":650,"l":610,"h":690},{"m":"CPO","x":0.24,"y":830,"l":780,"h":880},{"m":"CPO","x":0.28,"y":950,"l":890,"h":1010},{"m":"CPO","x":0.32,"y":1010,"l":950,"h":1070},{"m":"CPO","x":0.36,"y":1090,"l":1020,"h":1160},{"m":"CPO","x":0.4,"y":1160,"l":1090,"h":1230},{"m":"CPO","x":0.45,"y":1220,"l":1150,"h":1290},{"m":"CPO","x":0.5,"y":1290,"l":1210,"h":1370},{"m":"CPO","x":0.55,"y":1380,"l":1300,"h":1460},{"m":"CPO","x":0.6,"y":1560,"l":1470,"h":1650},{"m":"CPO","x":0.65,"y":1800,"l":1690,"h":1910},{"m":"CPO","x":0.7,"y":1950,"l":1830,"h":2070},{"m":"CPO","x":0.75,"y":2100,"l":1970,"h":2230},{"m":"CPO","x":0.8,"y":2280,"l":2140,"h":2420},{"m":"CPO","x":0.85,"y":2450,"l":2300,"h":2600},{"m":"CPO","x":0.9,"y":2600,"l":2440,"h":2760},{"m":"CPO","x":0.95,"y":2750,"l":2590,"h":2910},{"m":"CPO","x":1,"y":2900,"l":2730,"h":3070},
{"m":"SR-CRPO","x":0.15,"y":440,"l":410,"h":470},{"m":"SR-CRPO","x":0.16,"y":500,"l":460,"h":540},{"m":"SR-CRPO","x":0.18,"y":770,"l":710,"h":830},{"m":"SR-CRPO","x":0.2,"y":870,"l":800,"h":940},{"m":"SR-CRPO","x":0.23,"y":930,"l":860,"h":1000},{"m":"SR-CRPO","x":0.26,"y":965,"l":890,"h":1040},{"m":"SR-CRPO","x":0.3,"y":1000,"l":920,"h":1080},{"m":"SR-CRPO","x":0.35,"y":1030,"l":950,"h":1110},{"m":"SR-CRPO","x":0.4,"y":1120,"l":1030,"h":1210},{"m":"SR-CRPO","x":0.45,"y":1200,"l":1100,"h":1300},{"m":"SR-CRPO","x":0.5,"y":1300,"l":1190,"h":1410},{"m":"SR-CRPO","x":0.55,"y":1380,"l":1260,"h":1500},{"m":"SR-CRPO","x":0.6,"y":1520,"l":1380,"h":1660},{"m":"SR-CRPO","x":0.63,"y":1800,"l":1640,"h":1960},{"m":"SR-CRPO","x":0.66,"y":1950,"l":1780,"h":2120},{"m":"SR-CRPO","x":0.7,"y":2050,"l":1870,"h":2230},{"m":"SR-CRPO","x":0.75,"y":2120,"l":1940,"h":2300},{"m":"SR-CRPO","x":0.8,"y":2130,"l":1950,"h":2310},{"m":"SR-CRPO","x":0.85,"y":2080,"l":1910,"h":2250},{"m":"SR-CRPO","x":0.9,"y":2300,"l":2120,"h":2480},{"m":"SR-CRPO","x":0.95,"y":2500,"l":2310,"h":2690},{"m":"SR-CRPO","x":1,"y":2690,"l":2490,"h":2890},
{"m":"SR-CPO","x":0.19,"y":470,"l":450,"h":490},{"m":"SR-CPO","x":0.2,"y":500,"l":480,"h":520},{"m":"SR-CPO","x":0.22,"y":560,"l":540,"h":580},{"m":"SR-CPO","x":0.25,"y":630,"l":600,"h":660},{"m":"SR-CPO","x":0.3,"y":700,"l":670,"h":730},{"m":"SR-CPO","x":0.35,"y":760,"l":730,"h":790},{"m":"SR-CPO","x":0.4,"y":880,"l":845,"h":915},{"m":"SR-CPO","x":0.45,"y":900,"l":865,"h":935},{"m":"SR-CPO","x":0.5,"y":960,"l":920,"h":1000},{"m":"SR-CPO","x":0.55,"y":1040,"l":1000,"h":1080},{"m":"SR-CPO","x":0.6,"y":1200,"l":1150,"h":1250},{"m":"SR-CPO","x":0.65,"y":1310,"l":1260,"h":1360},{"m":"SR-CPO","x":0.7,"y":1360,"l":1310,"h":1410},{"m":"SR-CPO","x":0.75,"y":1440,"l":1380,"h":1500},{"m":"SR-CPO","x":0.8,"y":1560,"l":1500,"h":1620},{"m":"SR-CPO","x":0.85,"y":1640,"l":1570,"h":1710},{"m":"SR-CPO","x":0.9,"y":1730,"l":1660,"h":1800},{"m":"SR-CPO","x":0.95,"y":1830,"l":1760,"h":1900},{"m":"SR-CPO","x":1,"y":1930,"l":1850,"h":2010}
],
"ecb":[
{"m":"CRPO","x":20000,"y":97,"l":82,"h":110},{"m":"CRPO","x":30000,"y":96,"l":82,"h":110},{"m":"CRPO","x":50000,"y":95,"l":80,"h":108},{"m":"CRPO","x":70000,"y":93,"l":78,"h":107},{"m":"CRPO","x":100000,"y":90,"l":75,"h":105},{"m":"CRPO","x":150000,"y":84,"l":68,"h":100},{"m":"CRPO","x":200000,"y":78,"l":62,"h":94},{"m":"CRPO","x":300000,"y":64,"l":48,"h":80},{"m":"CRPO","x":400000,"y":50,"l":38,"h":63},{"m":"CRPO","x":500000,"y":35,"l":27,"h":44},{"m":"CRPO","x":600000,"y":25,"l":20,"h":30},{"m":"CRPO","x":800000,"y":19,"l":16,"h":22},{"m":"CRPO","x":1000000,"y":17,"l":15,"h":19},{"m":"CRPO","x":1500000,"y":17,"l":15,"h":19},{"m":"CRPO","x":2000000,"y":16,"l":14,"h":18},{"m":"CRPO","x":3000000,"y":17,"l":15,"h":19},{"m":"CRPO","x":4000000,"y":16,"l":14,"h":18},{"m":"CRPO","x":5000000,"y":16,"l":14,"h":18},{"m":"CRPO","x":6000000,"y":15,"l":13,"h":17},{"m":"CRPO","x":8000000,"y":16,"l":14,"h":18},{"m":"CRPO","x":10000000,"y":15,"l":13,"h":17},
{"m":"CPO","x":20000,"y":77,"l":62,"h":85},{"m":"CPO","x":30000,"y":75,"l":60,"h":84},{"m":"CPO","x":50000,"y":73,"l":58,"h":82},{"m":"CPO","x":70000,"y":71,"l":57,"h":80},{"m":"CPO","x":100000,"y":70,"l":56,"h":78},{"m":"CPO","x":150000,"y":65,"l":52,"h":74},{"m":"CPO","x":200000,"y":60,"l":48,"h":70},{"m":"CPO","x":300000,"y":52,"l":42,"h":60},{"m":"CPO","x":400000,"y":44,"l":36,"h":51},{"m":"CPO","x":500000,"y":33,"l":27,"h":38},{"m":"CPO","x":600000,"y":24,"l":20,"h":28},{"m":"CPO","x":800000,"y":19,"l":16,"h":22},{"m":"CPO","x":1000000,"y":17,"l":15,"h":19},{"m":"CPO","x":1500000,"y":16,"l":14,"h":18},{"m":"CPO","x":2000000,"y":16,"l":14,"h":18},{"m":"CPO","x":3000000,"y":15,"l":13,"h":17},{"m":"CPO","x":4000000,"y":16,"l":14,"h":18},{"m":"CPO","x":5000000,"y":15,"l":13,"h":17},{"m":"CPO","x":6000000,"y":15,"l":13,"h":17},{"m":"CPO","x":8000000,"y":14,"l":12,"h":16},{"m":"CPO","x":10000000,"y":14,"l":12,"h":16},
{"m":"TRPO-PID","x":20000,"y":61,"l":45,"h":75},{"m":"TRPO-PID","x":30000,"y":61,"l":46,"h":75},{"m":"TRPO-PID","x":50000,"y":62,"l":48,"h":76},{"m":"TRPO-PID","x":70000,"y":66,"l":52,"h":78},{"m":"TRPO-PID","x":100000,"y":70,"l":56,"h":80},{"m":"TRPO-PID","x":150000,"y":72,"l":58,"h":82},{"m":"TRPO-PID","x":200000,"y":68,"l":55,"h":78},{"m":"TRPO-PID","x":300000,"y":58,"l":47,"h":68},{"m":"TRPO-PID","x":400000,"y":48,"l":39,"h":56},{"m":"TRPO-PID","x":500000,"y":35,"l":28,"h":42},{"m":"TRPO-PID","x":600000,"y":25,"l":20,"h":30},{"m":"TRPO-PID","x":800000,"y":18,"l":14,"h":22},{"m":"TRPO-PID","x":1000000,"y":12,"l":9,"h":15},{"m":"TRPO-PID","x":1500000,"y":9,"l":6,"h":12},{"m":"TRPO-PID","x":2000000,"y":8,"l":5,"h":11},{"m":"TRPO-PID","x":3000000,"y":8,"l":5,"h":11},{"m":"TRPO-PID","x":4000000,"y":9,"l":6,"h":12},{"m":"TRPO-PID","x":5000000,"y":8,"l":5,"h":11},{"m":"TRPO-PID","x":6000000,"y":9,"l":6,"h":12},{"m":"TRPO-PID","x":8000000,"y":7,"l":4,"h":10},{"m":"TRPO-PID","x":10000000,"y":5,"l":3,"h":8},
{"m":"SauteRL","x":20000,"y":62,"l":52,"h":72},{"m":"SauteRL","x":30000,"y":62,"l":52,"h":72},{"m":"SauteRL","x":50000,"y":63,"l":53,"h":73},{"m":"SauteRL","x":70000,"y":63,"l":53,"h":73},{"m":"SauteRL","x":100000,"y":63,"l":53,"h":73},{"m":"SauteRL","x":150000,"y":60,"l":50,"h":70},{"m":"SauteRL","x":200000,"y":56,"l":47,"h":65},{"m":"SauteRL","x":300000,"y":50,"l":42,"h":58},{"m":"SauteRL","x":400000,"y":44,"l":37,"h":51},{"m":"SauteRL","x":500000,"y":33,"l":28,"h":38},{"m":"SauteRL","x":600000,"y":24,"l":20,"h":28},{"m":"SauteRL","x":800000,"y":18,"l":15,"h":21},{"m":"SauteRL","x":1000000,"y":16,"l":13,"h":19},{"m":"SauteRL","x":1500000,"y":12,"l":9,"h":15},{"m":"SauteRL","x":2000000,"y":10,"l":7,"h":13},{"m":"SauteRL","x":3000000,"y":8,"l":6,"h":11},{"m":"SauteRL","x":4000000,"y":9,"l":7,"h":12},{"m":"SauteRL","x":5000000,"y":8,"l":6,"h":11},{"m":"SauteRL","x":6000000,"y":9,"l":7,"h":12},{"m":"SauteRL","x":8000000,"y":8,"l":6,"h":11},{"m":"SauteRL","x":10000000,"y":7,"l":5,"h":10},
{"m":"SR-CRPO","x":20000,"y":67,"l":58,"h":76},{"m":"SR-CRPO","x":30000,"y":67,"l":58,"h":76},{"m":"SR-CRPO","x":50000,"y":67,"l":58,"h":76},{"m":"SR-CRPO","x":70000,"y":67,"l":58,"h":76},{"m":"SR-CRPO","x":100000,"y":66,"l":57,"h":75},{"m":"SR-CRPO","x":150000,"y":58,"l":50,"h":66},{"m":"SR-CRPO","x":200000,"y":50,"l":43,"h":57},{"m":"SR-CRPO","x":300000,"y":44,"l":38,"h":50},{"m":"SR-CRPO","x":400000,"y":37,"l":32,"h":42},{"m":"SR-CRPO","x":500000,"y":28,"l":24,"h":32},{"m":"SR-CRPO","x":600000,"y":21,"l":18,"h":24},{"m":"SR-CRPO","x":800000,"y":18,"l":16,"h":20},{"m":"SR-CRPO","x":1000000,"y":18,"l":16,"h":20},{"m":"SR-CRPO","x":1500000,"y":17,"l":15,"h":19},{"m":"SR-CRPO","x":2000000,"y":17,"l":15,"h":19},{"m":"SR-CRPO","x":3000000,"y":16,"l":14,"h":18},{"m":"SR-CRPO","x":4000000,"y":17,"l":15,"h":19},{"m":"SR-CRPO","x":5000000,"y":16,"l":14,"h":18},{"m":"SR-CRPO","x":6000000,"y":16,"l":14,"h":18},{"m":"SR-CRPO","x":8000000,"y":15,"l":13,"h":17},{"m":"SR-CRPO","x":10000000,"y":15,"l":13,"h":17},
{"m":"SR-CPO","x":20000,"y":34,"l":25,"h":44},{"m":"SR-CPO","x":30000,"y":38,"l":28,"h":48},{"m":"SR-CPO","x":50000,"y":43,"l":33,"h":53},{"m":"SR-CPO","x":70000,"y":46,"l":36,"h":56},{"m":"SR-CPO","x":100000,"y":48,"l":38,"h":58},{"m":"SR-CPO","x":150000,"y":47,"l":38,"h":57},{"m":"SR-CPO","x":200000,"y":44,"l":36,"h":53},{"m":"SR-CPO","x":300000,"y":40,"l":33,"h":47},{"m":"SR-CPO","x":400000,"y":35,"l":29,"h":41},{"m":"SR-CPO","x":500000,"y":25,"l":21,"h":30},{"m":"SR-CPO","x":600000,"y":20,"l":17,"h":23},{"m":"SR-CPO","x":800000,"y":17,"l":15,"h":19},{"m":"SR-CPO","x":1000000,"y":17,"l":15,"h":19},{"m":"SR-CPO","x":1500000,"y":16,"l":14,"h":18},{"m":"SR-CPO","x":2000000,"y":16,"l":14,"h":18},{"m":"SR-CPO","x":3000000,"y":15,"l":13,"h":17},{"m":"SR-CPO","x":4000000,"y":16,"l":14,"h":18},{"m":"SR-CPO","x":5000000,"y":15,"l":13,"h":17},{"m":"SR-CPO","x":6000000,"y":15,"l":13,"h":17},{"m":"SR-CPO","x":8000000,"y":14,"l":12,"h":16},{"m":"SR-CPO","x":10000000,"y":14,"l":12,"h":16}
],
"ecg":[
{"m":"CRPO","x":20000,"y":103,"l":75,"h":120},{"m":"CRPO","x":30000,"y":99,"l":73,"h":120},{"m":"CRPO","x":50000,"y":92,"l":68,"h":118},{"m":"CRPO","x":70000,"y":87,"l":64,"h":116},{"m":"CRPO","x":100000,"y":82,"l":60,"h":115},{"m":"CRPO","x":150000,"y":76,"l":56,"h":110},{"m":"CRPO","x":200000,"y":70,"l":52,"h":100},{"m":"CRPO","x":300000,"y":57,"l":42,"h":80},{"m":"CRPO","x":400000,"y":48,"l":36,"h":62},{"m":"CRPO","x":500000,"y":32,"l":25,"h":40},{"m":"CRPO","x":600000,"y":23,"l":19,"h":27},{"m":"CRPO","x":800000,"y":20,"l":17,"h":23},{"m":"CRPO","x":1000000,"y":18,"l":15,"h":21},{"m":"CRPO","x":1500000,"y":16,"l":14,"h":18},{"m":"CRPO","x":2000000,"y":15,"l":13,"h":17},{"m":"CRPO","x":3000000,"y":14,"l":12,"h":16},{"m":"CRPO","x":4000000,"y":15,"l":13,"h":17},{"m":"CRPO","x":5000000,"y":14,"l":12,"h":16},{"m":"CRPO","x":6000000,"y":14,"l":12,"h":16},{"m":"CRPO","x":8000000,"y":14,"l":12,"h":16},{"m":"CRPO","x":10000000,"y":14,"l":12,"h":16},
{"m":"CPO","x":20000,"y":67,"l":50,"h":83},{"m":"CPO","x":30000,"y":67,"l":51,"h":82},{"m":"CPO","x":50000,"y":66,"l":51,"h":80},{"m":"CPO","x":70000,"y":65,"l":51,"h":78},{"m":"CPO","x":100000,"y":64,"l":52,"h":76},{"m":"CPO","x":150000,"y":60,"l":49,"h":71},{"m":"CPO","x":200000,"y":55,"l":45,"h":65},{"m":"CPO","x":300000,"y":48,"l":40,"h":56},{"m":"CPO","x":400000,"y":40,"l":34,"h":46},{"m":"CPO","x":500000,"y":28,"l":24,"h":32},{"m":"CPO","x":600000,"y":21,"l":18,"h":24},{"m":"CPO","x":800000,"y":19,"l":16,"h":22},{"m":"CPO","x":1000000,"y":18,"l":15,"h":21},{"m":"CPO","x":1500000,"y":17,"l":14,"h":20},{"m":"CPO","x":2000000,"y":16,"l":14,"h":18},{"m":"CPO","x":3000000,"y":15,"l":13,"h":17},{"m":"CPO","x":4000000,"y":15,"l":13,"h":17},{"m":"CPO","x":5000000,"y":14,"l":12,"h":16},{"m":"CPO","x":6000000,"y":14,"l":12,"h":16},{"m":"CPO","x":8000000,"y":14,"l":12,"h":16},{"m":"CPO","x":10000000,"y":14,"l":12,"h":16},
{"m":"SauteRL","x":20000,"y":63,"l":52,"h":75},{"m":"SauteRL","x":30000,"y":66,"l":55,"h":78},{"m":"SauteRL","x":50000,"y":70,"l":58,"h":81},{"m":"SauteRL","x":70000,"y":70,"l":59,"h":81},{"m":"SauteRL","x":100000,"y":69,"l":59,"h":80},{"m":"SauteRL","x":150000,"y":66,"l":57,"h":76},{"m":"SauteRL","x":200000,"y":62,"l":54,"h":71},{"m":"SauteRL","x":300000,"y":55,"l":48,"h":63},{"m":"SauteRL","x":400000,"y":47,"l":41,"h":54},{"m":"SauteRL","x":500000,"y":30,"l":25,"h":36},{"m":"SauteRL","x":600000,"y":22,"l":19,"h":26},{"m":"SauteRL","x":800000,"y":18,"l":15,"h":21},{"m":"SauteRL","x":1000000,"y":18,"l":15,"h":21},{"m":"SauteRL","x":1500000,"y":15,"l":12,"h":18},{"m":"SauteRL","x":2000000,"y":13,"l":10,"h":16},{"m":"SauteRL","x":3000000,"y":12,"l":9,"h":15},{"m":"SauteRL","x":4000000,"y":11,"l":8,"h":14},{"m":"SauteRL","x":5000000,"y":11,"l":8,"h":14},{"m":"SauteRL","x":6000000,"y":10,"l":7,"h":13},{"m":"SauteRL","x":8000000,"y":10,"l":7,"h":13},{"m":"SauteRL","x":10000000,"y":10,"l":7,"h":13},
{"m":"TRPO-PID","x":20000,"y":45,"l":32,"h":58},{"m":"TRPO-PID","x":30000,"y":50,"l":37,"h":63},{"m":"TRPO-PID","x":50000,"y":57,"l":44,"h":70},{"m":"TRPO-PID","x":70000,"y":62,"l":49,"h":74},{"m":"TRPO-PID","x":100000,"y":64,"l":52,"h":76},{"m":"TRPO-PID","x":150000,"y":63,"l":52,"h":75},{"m":"TRPO-PID","x":200000,"y":60,"l":50,"h":71},{"m":"TRPO-PID","x":300000,"y":52,"l":44,"h":61},{"m":"TRPO-PID","x":400000,"y":44,"l":37,"h":51},{"m":"TRPO-PID","x":500000,"y":30,"l":25,"h":36},{"m":"TRPO-PID","x":600000,"y":20,"l":16,"h":24},{"m":"TRPO-PID","x":800000,"y":15,"l":12,"h":18},{"m":"TRPO-PID","x":1000000,"y":12,"l":9,"h":15},{"m":"TRPO-PID","x":1500000,"y":9,"l":6,"h":12},{"m":"TRPO-PID","x":2000000,"y":9,"l":6,"h":12},{"m":"TRPO-PID","x":3000000,"y":10,"l":7,"h":13},{"m":"TRPO-PID","x":4000000,"y":9,"l":6,"h":12},{"m":"TRPO-PID","x":5000000,"y":10,"l":7,"h":13},{"m":"TRPO-PID","x":6000000,"y":9,"l":6,"h":12},{"m":"TRPO-PID","x":8000000,"y":9,"l":6,"h":12},{"m":"TRPO-PID","x":10000000,"y":8,"l":5,"h":11},
{"m":"SR-CRPO","x":20000,"y":60,"l":50,"h":70},{"m":"SR-CRPO","x":30000,"y":61,"l":51,"h":71},{"m":"SR-CRPO","x":50000,"y":61,"l":51,"h":71},{"m":"SR-CRPO","x":70000,"y":61,"l":51,"h":71},{"m":"SR-CRPO","x":100000,"y":59,"l":50,"h":69},{"m":"SR-CRPO","x":150000,"y":53,"l":45,"h":61},{"m":"SR-CRPO","x":200000,"y":48,"l":41,"h":55},{"m":"SR-CRPO","x":300000,"y":40,"l":34,"h":46},{"m":"SR-CRPO","x":400000,"y":34,"l":29,"h":39},{"m":"SR-CRPO","x":500000,"y":24,"l":20,"h":28},{"m":"SR-CRPO","x":600000,"y":19,"l":16,"h":22},{"m":"SR-CRPO","x":800000,"y":18,"l":16,"h":20},{"m":"SR-CRPO","x":1000000,"y":18,"l":16,"h":20},{"m":"SR-CRPO","x":1500000,"y":17,"l":15,"h":19},{"m":"SR-CRPO","x":2000000,"y":16,"l":14,"h":18},{"m":"SR-CRPO","x":3000000,"y":14,"l":12,"h":16},{"m":"SR-CRPO","x":4000000,"y":14,"l":12,"h":16},{"m":"SR-CRPO","x":5000000,"y":14,"l":12,"h":16},{"m":"SR-CRPO","x":6000000,"y":13,"l":11,"h":15},{"m":"SR-CRPO","x":8000000,"y":14,"l":12,"h":16},{"m":"SR-CRPO","x":10000000,"y":14,"l":12,"h":16},
{"m":"SR-CPO","x":20000,"y":37,"l":30,"h":44},{"m":"SR-CPO","x":30000,"y":38,"l":31,"h":45},{"m":"SR-CPO","x":50000,"y":40,"l":33,"h":48},{"m":"SR-CPO","x":70000,"y":44,"l":36,"h":52},{"m":"SR-CPO","x":100000,"y":46,"l":38,"h":55},{"m":"SR-CPO","x":150000,"y":44,"l":37,"h":52},{"m":"SR-CPO","x":200000,"y":42,"l":36,"h":49},{"m":"SR-CPO","x":300000,"y":38,"l":33,"h":44},{"m":"SR-CPO","x":400000,"y":34,"l":29,"h":39},{"m":"SR-CPO","x":500000,"y":24,"l":20,"h":28},{"m":"SR-CPO","x":600000,"y":20,"l":17,"h":23},{"m":"SR-CPO","x":800000,"y":18,"l":15,"h":21},{"m":"SR-CPO","x":1000000,"y":18,"l":15,"h":21},{"m":"SR-CPO","x":1300000,"y":21,"l":18,"h":24},{"m":"SR-CPO","x":2000000,"y":17,"l":14,"h":20},{"m":"SR-CPO","x":3000000,"y":14,"l":12,"h":16},{"m":"SR-CPO","x":4000000,"y":13,"l":11,"h":15},{"m":"SR-CPO","x":5000000,"y":13,"l":11,"h":15},{"m":"SR-CPO","x":6000000,"y":12,"l":10,"h":14},{"m":"SR-CPO","x":8000000,"y":12,"l":10,"h":14},{"m":"SR-CPO","x":10000000,"y":12,"l":10,"h":14}
]
},
"concat":[
{"width":102.5,"height":139,"data":{"name":"ln1"},"view":{"stroke":null},
 "mark":{"type":"text","align":"right","baseline":"middle","font":"Liberation Sans","fontWeight":"bold","fontSize":20,"color":"#b0b0b0"},
 "encoding":{"x":{"datum":1,"type":"quantitative","scale":{"domain":[0,2.44],"nice":false},"axis":null},
  "y":{"field":"n","type":"quantitative","scale":{"domain":[270.126,274.511],"reverse":true,"nice":false,"zero":false},"axis":null},
  "text":{"field":"n","type":"nominal"}}},
{"width":201,"height":139,"title":"AdroitHandPen","data":{"name":"ahp"},
 "encoding":{"x":{"field":"x","type":"quantitative","scale":{"domain":[0,1],"nice":false,"zero":false},"axis":{"values":[0.2,0.4,0.6,0.8,1],"labelExpr":"datum.value == 1 ? ['1.0', '1e7\u2003\u2003'] : format(datum.value, '.1f')","labelLineHeight":13,"title":"Steps","titlePadding":-11}}},
 "layer":[
  {"mark":{"type":"area","opacity":0.15,"clip":true},
   "encoding":{"y":{"field":"l","type":"quantitative","scale":{"domain":[2000,9000],"nice":false,"zero":false},"axis":{"values":[2000,3000,4000,5000,6000,7000,8000,9000],"format":"d","title":"Return"}},"y2":{"field":"h"},
    "fill":{"field":"m","type":"nominal","scale":{"domain":["CPO","TRPO-PID","SR-CPO","CRPO","SR-CRPO","SauteRL"],"range":["#0173b2","#de8f05","#0173b2","#029e73","#029e73","#d55e00"]},"legend":null}}},
  {"mark":{"type":"line","strokeWidth":1.8,"clip":true},
   "encoding":{"y":{"field":"y","type":"quantitative","scale":{"domain":[2000,9000],"nice":false,"zero":false},"axis":{"values":[2000,3000,4000,5000,6000,7000,8000,9000],"format":"d","title":"Return"}},
    "color":{"field":"m","type":"nominal","scale":{"domain":["CPO","TRPO-PID","SR-CPO","CRPO","SR-CRPO","SauteRL","cost-limit"],"range":["#0173b2","#de8f05","#0173b2","#029e73","#029e73","#d55e00","#000000"]},"legend":{"orient":"none","legendX":278,"legendY":-63,"direction":"horizontal","title":null,"symbolType":"stroke"}},
    "strokeDash":{"field":"m","type":"nominal","scale":{"domain":["CPO","TRPO-PID","SR-CPO","CRPO","SR-CRPO","SauteRL","cost-limit"],"range":[[4,2],[4,2],[1,0],[4,2],[1,0],[4,2],[6,3]]},"legend":{"orient":"none","legendX":278,"legendY":-63,"direction":"horizontal","title":null,"symbolType":"stroke"}}}}
 ]},
{"width":201,"height":139,"title":"SafeMetaDrive","data":{"name":"smd"},
 "encoding":{"x":{"field":"x","type":"quantitative","scale":{"domain":[0,1],"nice":false,"zero":false},"axis":{"values":[0,0.2,0.4,0.6,0.8,1],"labelExpr":"datum.value == 1 ? ['1.0', '1e6\u2003\u2003'] : format(datum.value, '.1f')","labelLineHeight":13,"title":"Steps","titlePadding":-11}}},
 "layer":[
  {"mark":{"type":"area","opacity":0.15,"clip":true},
   "encoding":{"y":{"field":"l","type":"quantitative","scale":{"domain":[0,0.6],"nice":false,"zero":false},"axis":{"values":[0,0.1,0.2,0.3,0.4,0.5,0.6],"format":".1f","title":"Success Rate"}},"y2":{"field":"h"},
    "fill":{"field":"m","type":"nominal","scale":{"domain":["CPO","TRPO-PID","SR-CPO","CRPO","SR-CRPO","SauteRL"],"range":["#0173b2","#de8f05","#0173b2","#029e73","#029e73","#d55e00"]},"legend":null}}},
  {"mark":{"type":"line","strokeWidth":1.8,"clip":true},
   "encoding":{"y":{"field":"y","type":"quantitative","scale":{"domain":[0,0.6],"nice":false,"zero":false},"axis":{"values":[0,0.1,0.2,0.3,0.4,0.5,0.6],"format":".1f","title":"Success Rate"}},
    "color":{"field":"m","type":"nominal","scale":{"domain":["CPO","TRPO-PID","SR-CPO","CRPO","SR-CRPO","SauteRL","cost-limit"],"range":["#0173b2","#de8f05","#0173b2","#029e73","#029e73","#d55e00","#000000"]},"legend":{"orient":"none","legendX":278,"legendY":-63,"direction":"horizontal","title":null,"symbolType":"stroke"}},
    "strokeDash":{"field":"m","type":"nominal","scale":{"domain":["CPO","TRPO-PID","SR-CPO","CRPO","SR-CRPO","SauteRL","cost-limit"],"range":[[4,2],[4,2],[1,0],[4,2],[1,0],[4,2],[6,3]]},"legend":{"orient":"none","legendX":278,"legendY":-63,"direction":"horizontal","title":null,"symbolType":"stroke"}}}}
 ]},
{"width":201,"height":139,"title":"PointButton1","data":{"name":"pb"},
 "encoding":{"x":{"field":"x","type":"quantitative","scale":{"domain":[0,1],"nice":false,"zero":false},"axis":{"values":[0.2,0.4,0.6,0.8,1],"labelExpr":"datum.value == 1 ? ['1.0', '1e7\u2003\u2003'] : format(datum.value, '.1f')","labelLineHeight":13,"title":"Steps","titlePadding":-11}}},
 "layer":[
  {"mark":{"type":"area","opacity":0.15,"clip":true},
   "encoding":{"y":{"field":"l","type":"quantitative","scale":{"domain":[-2,3.42],"nice":false,"zero":false},"axis":{"values":[-2,-1,0,1,2,3],"format":"d","title":"Return"}},"y2":{"field":"h"},
    "fill":{"field":"m","type":"nominal","scale":{"domain":["CPO","TRPO-PID","SR-CPO","CRPO","SR-CRPO","SauteRL"],"range":["#0173b2","#de8f05","#0173b2","#029e73","#029e73","#d55e00"]},"legend":null}}},
  {"mark":{"type":"line","strokeWidth":1.8,"clip":true},
   "encoding":{"y":{"field":"y","type":"quantitative","scale":{"domain":[-2,3.42],"nice":false,"zero":false},"axis":{"values":[-2,-1,0,1,2,3],"format":"d","title":"Return"}},
    "color":{"field":"m","type":"nominal","scale":{"domain":["CPO","TRPO-PID","SR-CPO","CRPO","SR-CRPO","SauteRL","cost-limit"],"range":["#0173b2","#de8f05","#0173b2","#029e73","#029e73","#d55e00","#000000"]},"legend":{"orient":"none","legendX":278,"legendY":-63,"direction":"horizontal","title":null,"symbolType":"stroke"}},
    "strokeDash":{"field":"m","type":"nominal","scale":{"domain":["CPO","TRPO-PID","SR-CPO","CRPO","SR-CRPO","SauteRL","cost-limit"],"range":[[4,2],[4,2],[1,0],[4,2],[1,0],[4,2],[6,3]]},"legend":{"orient":"none","legendX":278,"legendY":-63,"direction":"horizontal","title":null,"symbolType":"stroke"}}}}
 ]},
{"width":201,"height":139,"title":"PointGoal1","data":{"name":"pg"},
 "encoding":{"x":{"field":"x","type":"quantitative","scale":{"domain":[0,1],"nice":false,"zero":false},"axis":{"values":[0.2,0.4,0.6,0.8,1],"labelExpr":"datum.value == 1 ? ['1.0', '1e7\u2003\u2003'] : format(datum.value, '.1f')","labelLineHeight":13,"title":"Steps","titlePadding":-11}}},
 "layer":[
  {"mark":{"type":"area","opacity":0.15,"clip":true},
   "encoding":{"y":{"field":"l","type":"quantitative","scale":{"domain":[0,12],"nice":false,"zero":false},"axis":{"values":[0,2,4,6,8,10,12],"format":"d","title":null}},"y2":{"field":"h"},
    "fill":{"field":"m","type":"nominal","scale":{"domain":["CPO","TRPO-PID","SR-CPO","CRPO","SR-CRPO","SauteRL"],"range":["#0173b2","#de8f05","#0173b2","#029e73","#029e73","#d55e00"]},"legend":null}}},
  {"mark":{"type":"line","strokeWidth":1.8,"clip":true},
   "encoding":{"y":{"field":"y","type":"quantitative","scale":{"domain":[0,12],"nice":false,"zero":false},"axis":{"values":[0,2,4,6,8,10,12],"format":"d","title":null}},
    "color":{"field":"m","type":"nominal","scale":{"domain":["CPO","TRPO-PID","SR-CPO","CRPO","SR-CRPO","SauteRL","cost-limit"],"range":["#0173b2","#de8f05","#0173b2","#029e73","#029e73","#d55e00","#000000"]},"legend":{"orient":"none","legendX":278,"legendY":-63,"direction":"horizontal","title":null,"symbolType":"stroke"}},
    "strokeDash":{"field":"m","type":"nominal","scale":{"domain":["CPO","TRPO-PID","SR-CPO","CRPO","SR-CRPO","SauteRL","cost-limit"],"range":[[4,2],[4,2],[1,0],[4,2],[1,0],[4,2],[6,3]]},"legend":{"orient":"none","legendX":278,"legendY":-63,"direction":"horizontal","title":null,"symbolType":"stroke"}}}}
 ]},
{"width":102.5,"height":139,"data":{"name":"ln2"},"view":{"stroke":null},
 "mark":{"type":"text","align":"right","baseline":"middle","font":"Liberation Sans","fontWeight":"bold","fontSize":20,"color":"#b0b0b0"},
 "encoding":{"x":{"datum":1,"type":"quantitative","scale":{"domain":[0,2.44],"nice":false},"axis":null},
  "y":{"field":"n","type":"quantitative","scale":{"domain":[275.773,280.158],"reverse":true,"nice":false,"zero":false},"axis":null},
  "text":{"field":"n","type":"nominal"}}},
{"width":201,"height":139,"data":{"name":"fail"},
 "encoding":{"x":{"field":"x","type":"quantitative","scale":{"domain":[0,1],"nice":false,"zero":false},"axis":{"values":[0,0.2,0.4,0.6,0.8,1],"labelExpr":"datum.value == 1 ? ['1.0', '1e7\u2003\u2003'] : format(datum.value, '.1f')","labelLineHeight":13,"title":"Steps","titlePadding":-11}}},
 "layer":[
  {"mark":{"type":"area","opacity":0.15,"clip":true},
   "encoding":{"y":{"field":"l","type":"quantitative","scale":{"type":"log","domain":[3000,9000],"nice":false},"axis":{"values":[3000,4000,5000,6000,7000,8000,9000],"labelExpr":"datum.value == 3000 ? '3 \u00d7 10\u00b3' : datum.value == 4000 ? '4 \u00d7 10\u00b3' : datum.value == 6000 ? '6 \u00d7 10\u00b3' : ''","tickSize":{"condition":{"test":"datum.value == 3000 || datum.value == 4000 || datum.value == 6000","value":3.5},"value":2},"title":"# failures"}},"y2":{"field":"h"},
    "fill":{"field":"m","type":"nominal","scale":{"domain":["CPO","TRPO-PID","SR-CPO","CRPO","SR-CRPO","SauteRL"],"range":["#0173b2","#de8f05","#0173b2","#029e73","#029e73","#d55e00"]},"legend":null}}},
  {"mark":{"type":"line","strokeWidth":1.8,"clip":true},
   "encoding":{"y":{"field":"y","type":"quantitative","scale":{"type":"log","domain":[3000,9000],"nice":false},"axis":{"values":[3000,4000,5000,6000,7000,8000,9000],"labelExpr":"datum.value == 3000 ? '3 \u00d7 10\u00b3' : datum.value == 4000 ? '4 \u00d7 10\u00b3' : datum.value == 6000 ? '6 \u00d7 10\u00b3' : ''","tickSize":{"condition":{"test":"datum.value == 3000 || datum.value == 4000 || datum.value == 6000","value":3.5},"value":2},"title":"# failures"}},
    "color":{"field":"m","type":"nominal","scale":{"domain":["CPO","TRPO-PID","SR-CPO","CRPO","SR-CRPO","SauteRL","cost-limit"],"range":["#0173b2","#de8f05","#0173b2","#029e73","#029e73","#d55e00","#000000"]},"legend":{"orient":"none","legendX":278,"legendY":-63,"direction":"horizontal","title":null,"symbolType":"stroke"}},
    "strokeDash":{"field":"m","type":"nominal","scale":{"domain":["CPO","TRPO-PID","SR-CPO","CRPO","SR-CRPO","SauteRL","cost-limit"],"range":[[4,2],[4,2],[1,0],[4,2],[1,0],[4,2],[6,3]]},"legend":{"orient":"none","legendX":278,"legendY":-63,"direction":"horizontal","title":null,"symbolType":"stroke"}}}}
 ]},
{"width":201,"height":139,"data":{"name":"tc"},
 "encoding":{"x":{"field":"x","type":"quantitative","scale":{"domain":[0,1],"nice":false,"zero":false},"axis":{"values":[0,0.2,0.4,0.6,0.8,1],"labelExpr":"datum.value == 1 ? ['1.0', '1e6\u2003\u2003'] : format(datum.value, '.1f')","labelLineHeight":13,"title":"Steps","titlePadding":-11}}},
 "layer":[
  {"mark":{"type":"area","opacity":0.15,"clip":true},
   "encoding":{"y":{"field":"l","type":"quantitative","scale":{"type":"log","domain":[500,8000],"nice":false},"axis":{"values":[500,600,700,800,900,1000,2000,3000,4000,5000,6000,7000,8000],"labelExpr":"datum.value == 1000 ? '10\u00b3' : ''","tickSize":{"condition":{"test":"datum.value == 1000","value":3.5},"value":2},"title":"Total Cost"}},"y2":{"field":"h"},
    "fill":{"field":"m","type":"nominal","scale":{"domain":["CPO","TRPO-PID","SR-CPO","CRPO","SR-CRPO","SauteRL"],"range":["#0173b2","#de8f05","#0173b2","#029e73","#029e73","#d55e00"]},"legend":null}}},
  {"mark":{"type":"line","strokeWidth":1.8,"clip":true},
   "encoding":{"y":{"field":"y","type":"quantitative","scale":{"type":"log","domain":[500,8000],"nice":false},"axis":{"values":[500,600,700,800,900,1000,2000,3000,4000,5000,6000,7000,8000],"labelExpr":"datum.value == 1000 ? '10\u00b3' : ''","tickSize":{"condition":{"test":"datum.value == 1000","value":3.5},"value":2},"title":"Total Cost"}},
    "color":{"field":"m","type":"nominal","scale":{"domain":["CPO","TRPO-PID","SR-CPO","CRPO","SR-CRPO","SauteRL","cost-limit"],"range":["#0173b2","#de8f05","#0173b2","#029e73","#029e73","#d55e00","#000000"]},"legend":{"orient":"none","legendX":278,"legendY":-63,"direction":"horizontal","title":null,"symbolType":"stroke"}},
    "strokeDash":{"field":"m","type":"nominal","scale":{"domain":["CPO","TRPO-PID","SR-CPO","CRPO","SR-CRPO","SauteRL","cost-limit"],"range":[[4,2],[4,2],[1,0],[4,2],[1,0],[4,2],[6,3]]},"legend":{"orient":"none","legendX":278,"legendY":-63,"direction":"horizontal","title":null,"symbolType":"stroke"}}}}
 ]},
{"width":201,"height":139,"data":{"name":"ecb"},
 "encoding":{"x":{"field":"x","type":"quantitative","scale":{"type":"log","domain":[14500,10000000],"nice":false},"axis":{"values":[20000,30000,40000,50000,60000,70000,80000,90000,100000,200000,300000,400000,500000,600000,700000,800000,900000,1000000,2000000,3000000,4000000,5000000,6000000,7000000,8000000,9000000,10000000],"labelExpr":"datum.value == 100000 ? '10\u2075' : datum.value == 1000000 ? '10\u2076' : datum.value == 10000000 ? '10\u2077' : ''","tickSize":{"condition":{"test":"datum.value == 100000 || datum.value == 1000000 || datum.value == 10000000","value":3.5},"value":2},"title":"Steps"}}},
 "layer":[
  {"mark":{"type":"area","opacity":0.15,"clip":true},
   "encoding":{"y":{"field":"l","type":"quantitative","scale":{"domain":[0,120],"nice":false,"zero":false},"axis":{"values":[0,20,40,60,80,100,120],"format":"d","title":"Episodic Cost"}},"y2":{"field":"h"},
    "fill":{"field":"m","type":"nominal","scale":{"domain":["CPO","TRPO-PID","SR-CPO","CRPO","SR-CRPO","SauteRL"],"range":["#0173b2","#de8f05","#0173b2","#029e73","#029e73","#d55e00"]},"legend":null}}},
  {"mark":{"type":"line","strokeWidth":1.8,"clip":true},
   "encoding":{"y":{"field":"y","type":"quantitative","scale":{"domain":[0,120],"nice":false,"zero":false},"axis":{"values":[0,20,40,60,80,100,120],"format":"d","title":"Episodic Cost"}},
    "color":{"field":"m","type":"nominal","scale":{"domain":["CPO","TRPO-PID","SR-CPO","CRPO","SR-CRPO","SauteRL","cost-limit"],"range":["#0173b2","#de8f05","#0173b2","#029e73","#029e73","#d55e00","#000000"]},"legend":{"orient":"none","legendX":278,"legendY":-63,"direction":"horizontal","title":null,"symbolType":"stroke"}},
    "strokeDash":{"field":"m","type":"nominal","scale":{"domain":["CPO","TRPO-PID","SR-CPO","CRPO","SR-CRPO","SauteRL","cost-limit"],"range":[[4,2],[4,2],[1,0],[4,2],[1,0],[4,2],[6,3]]},"legend":{"orient":"none","legendX":278,"legendY":-63,"direction":"horizontal","title":null,"symbolType":"stroke"}}}},
  {"mark":{"type":"rule","strokeWidth":1.5},
   "encoding":{"x":null,"y":{"datum":10,"type":"quantitative","axis":{"values":[0,20,40,60,80,100,120],"format":"d","title":"Episodic Cost"}},
    "color":{"datum":"cost-limit","type":"nominal","legend":{"orient":"none","legendX":278,"legendY":-63,"direction":"horizontal","title":null,"symbolType":"stroke"}},
    "strokeDash":{"datum":"cost-limit","type":"nominal","legend":{"orient":"none","legendX":278,"legendY":-63,"direction":"horizontal","title":null,"symbolType":"stroke"}}}}
 ]},
{"width":201,"height":139,"data":{"name":"ecg"},
 "encoding":{"x":{"field":"x","type":"quantitative","scale":{"type":"log","domain":[14500,10000000],"nice":false},"axis":{"values":[20000,30000,40000,50000,60000,70000,80000,90000,100000,200000,300000,400000,500000,600000,700000,800000,900000,1000000,2000000,3000000,4000000,5000000,6000000,7000000,8000000,9000000,10000000],"labelExpr":"datum.value == 100000 ? '10\u2075' : datum.value == 1000000 ? '10\u2076' : datum.value == 10000000 ? '10\u2077' : ''","tickSize":{"condition":{"test":"datum.value == 100000 || datum.value == 1000000 || datum.value == 10000000","value":3.5},"value":2},"title":"Steps"}}},
 "layer":[
  {"mark":{"type":"area","opacity":0.15,"clip":true},
   "encoding":{"y":{"field":"l","type":"quantitative","scale":{"domain":[0,120],"nice":false,"zero":false},"axis":{"values":[0,20,40,60,80,100,120],"format":"d","title":null}},"y2":{"field":"h"},
    "fill":{"field":"m","type":"nominal","scale":{"domain":["CPO","TRPO-PID","SR-CPO","CRPO","SR-CRPO","SauteRL"],"range":["#0173b2","#de8f05","#0173b2","#029e73","#029e73","#d55e00"]},"legend":null}}},
  {"mark":{"type":"line","strokeWidth":1.8,"clip":true},
   "encoding":{"y":{"field":"y","type":"quantitative","scale":{"domain":[0,120],"nice":false,"zero":false},"axis":{"values":[0,20,40,60,80,100,120],"format":"d","title":null}},
    "color":{"field":"m","type":"nominal","scale":{"domain":["CPO","TRPO-PID","SR-CPO","CRPO","SR-CRPO","SauteRL","cost-limit"],"range":["#0173b2","#de8f05","#0173b2","#029e73","#029e73","#d55e00","#000000"]},"legend":{"orient":"none","legendX":278,"legendY":-63,"direction":"horizontal","title":null,"symbolType":"stroke"}},
    "strokeDash":{"field":"m","type":"nominal","scale":{"domain":["CPO","TRPO-PID","SR-CPO","CRPO","SR-CRPO","SauteRL","cost-limit"],"range":[[4,2],[4,2],[1,0],[4,2],[1,0],[4,2],[6,3]]},"legend":{"orient":"none","legendX":278,"legendY":-63,"direction":"horizontal","title":null,"symbolType":"stroke"}}}},
  {"mark":{"type":"rule","strokeWidth":1.5},
   "encoding":{"x":null,"y":{"datum":10,"type":"quantitative","axis":{"values":[0,20,40,60,80,100,120],"format":"d","title":null}},
    "color":{"datum":"cost-limit","type":"nominal","legend":{"orient":"none","legendX":278,"legendY":-63,"direction":"horizontal","title":null,"symbolType":"stroke"}},
    "strokeDash":{"datum":"cost-limit","type":"nominal","legend":{"orient":"none","legendX":278,"legendY":-63,"direction":"horizontal","title":null,"symbolType":"stroke"}}}}
 ]}
],
"config":{
 "font":"DejaVu Sans",
 "view":{"stroke":"#000000","strokeWidth":0.8},
 "axis":{"grid":false,"labelFont":"DejaVu Sans","labelFontSize":9.6,"labelColor":"#000000","titleFont":"DejaVu Sans","titleFontSize":9.6,"titleFontWeight":"normal","titleColor":"#000000","tickColor":"#000000","tickWidth":0.8,"tickSize":3.5,"domainColor":"#000000","domainWidth":0.8,"labelPadding":3,"titlePadding":3,"labelFlush":false,"labelOverlap":false,"labelBound":false},
 "title":{"font":"DejaVu Sans","fontSize":11.5,"fontWeight":"normal","color":"#000000","anchor":"middle","offset":5},
 "legend":{"labelFont":"DejaVu Sans","labelFontSize":11.5,"labelColor":"#000000","symbolSize":441,"symbolStrokeWidth":1.6,"labelOffset":11,"columnPadding":23,"padding":3.5,"strokeColor":"#cccccc","cornerRadius":3,"fillColor":"#ffffff","labelLimit":0}
}
}
